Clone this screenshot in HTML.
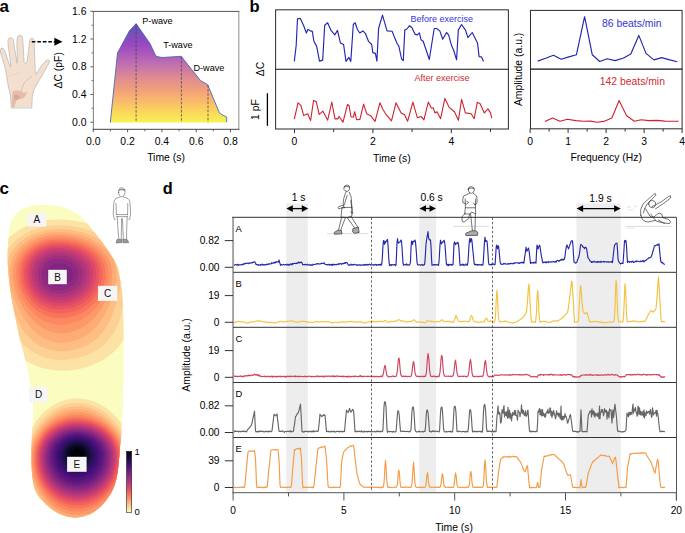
<!DOCTYPE html><html><head><meta charset="utf-8"><style>html,body{margin:0;padding:0;background:#fff;width:685px;height:533px;overflow:hidden}svg{display:block;font-family:"Liberation Sans",sans-serif}</style></head><body><svg width="685" height="533" viewBox="0 0 685 533"><text x="-0.6" y="11.8" font-size="17" text-anchor="start" fill="#000" font-weight="bold" >a</text>
<defs><linearGradient id="ga" gradientUnits="userSpaceOnUse" x1="0" y1="23" x2="0" y2="122.6"><stop offset="0" stop-color="#5a56b9"/><stop offset="0.222" stop-color="#9a48c2"/><stop offset="0.414" stop-color="#c070b0"/><stop offset="0.556" stop-color="#e08c90"/><stop offset="0.697" stop-color="#f4a478"/><stop offset="0.838" stop-color="#fcc864"/><stop offset="1" stop-color="#f6f452"/></linearGradient></defs>
<polygon fill="url(#ga)" points="110.3,122.6 117.5,52.9 129.4,30.8 136.1,23.6 150,43.5 156,56.3 162,57.5 181.2,56.3 200.5,80.6 207.7,84.7 219.5,113.2 226.7,117.1 226.7,122.6"/>
<polyline fill="none" stroke="#4a6ab5" stroke-width="0.9" stroke-linejoin="round" points="110.3,122.6 117.5,52.9 129.4,30.8 136.1,23.6 150,43.5 156,56.3 162,57.5 181.2,56.3 200.5,80.6 207.7,84.7 219.5,113.2 226.7,117.1 226.7,122.2" />
<line x1="136.1" y1="24" x2="136.1" y2="122.4" stroke="#444" stroke-width="0.75" stroke-dasharray="2.6,1.5"/>
<line x1="181.4" y1="56.6" x2="181.4" y2="122.4" stroke="#444" stroke-width="0.75" stroke-dasharray="2.6,1.5"/>
<line x1="208" y1="85" x2="208" y2="122.4" stroke="#444" stroke-width="0.75" stroke-dasharray="2.6,1.5"/>
<line x1="93.4" y1="11.4" x2="93.4" y2="129.3" stroke="#8a8a8a" stroke-width="1.1" />
<line x1="238.8" y1="11.4" x2="238.8" y2="129.3" stroke="#a8a8a8" stroke-width="1.3" />
<line x1="92.8" y1="11.4" x2="239.4" y2="11.4" stroke="#555" stroke-width="1.0" />
<line x1="92.8" y1="129.3" x2="239.4" y2="129.3" stroke="#444" stroke-width="1.0" />
<line x1="90.3" y1="122.2" x2="93.3" y2="122.2" stroke="#555" stroke-width="0.9" />
<text x="86.5" y="125.8" font-size="10.4" text-anchor="end" fill="#000" font-weight="normal" >0.0</text>
<line x1="90.3" y1="94.5" x2="93.3" y2="94.5" stroke="#555" stroke-width="0.9" />
<text x="86.5" y="98.1" font-size="10.4" text-anchor="end" fill="#000" font-weight="normal" >0.4</text>
<line x1="90.3" y1="66.8" x2="93.3" y2="66.8" stroke="#555" stroke-width="0.9" />
<text x="86.5" y="70.4" font-size="10.4" text-anchor="end" fill="#000" font-weight="normal" >0.8</text>
<line x1="90.3" y1="39" x2="93.3" y2="39" stroke="#555" stroke-width="0.9" />
<text x="86.5" y="42.6" font-size="10.4" text-anchor="end" fill="#000" font-weight="normal" >1.2</text>
<line x1="90.3" y1="11.3" x2="93.3" y2="11.3" stroke="#555" stroke-width="0.9" />
<text x="86.5" y="14.9" font-size="10.4" text-anchor="end" fill="#000" font-weight="normal" >1.6</text>
<line x1="91.5" y1="108.3" x2="93.3" y2="108.3" stroke="#555" stroke-width="0.8" />
<line x1="91.5" y1="80.6" x2="93.3" y2="80.6" stroke="#555" stroke-width="0.8" />
<line x1="91.5" y1="52.9" x2="93.3" y2="52.9" stroke="#555" stroke-width="0.8" />
<line x1="91.5" y1="25.2" x2="93.3" y2="25.2" stroke="#555" stroke-width="0.8" />
<line x1="93.3" y1="129.3" x2="93.3" y2="132.2" stroke="#444" stroke-width="0.9" />
<text x="93.3" y="145.2" font-size="10.4" text-anchor="middle" fill="#000" font-weight="normal" >0.0</text>
<line x1="127.6" y1="129.3" x2="127.6" y2="132.2" stroke="#444" stroke-width="0.9" />
<text x="127.6" y="145.2" font-size="10.4" text-anchor="middle" fill="#000" font-weight="normal" >0.2</text>
<line x1="161.9" y1="129.3" x2="161.9" y2="132.2" stroke="#444" stroke-width="0.9" />
<text x="161.9" y="145.2" font-size="10.4" text-anchor="middle" fill="#000" font-weight="normal" >0.4</text>
<line x1="196.2" y1="129.3" x2="196.2" y2="132.2" stroke="#444" stroke-width="0.9" />
<text x="196.2" y="145.2" font-size="10.4" text-anchor="middle" fill="#000" font-weight="normal" >0.6</text>
<line x1="230.5" y1="129.3" x2="230.5" y2="132.2" stroke="#444" stroke-width="0.9" />
<text x="230.5" y="145.2" font-size="10.4" text-anchor="middle" fill="#000" font-weight="normal" >0.8</text>
<line x1="110.4" y1="129.3" x2="110.4" y2="131.4" stroke="#444" stroke-width="0.8" />
<line x1="144.8" y1="129.3" x2="144.8" y2="131.4" stroke="#444" stroke-width="0.8" />
<line x1="179.1" y1="129.3" x2="179.1" y2="131.4" stroke="#444" stroke-width="0.8" />
<line x1="213.3" y1="129.3" x2="213.3" y2="131.4" stroke="#444" stroke-width="0.8" />
<text x="166" y="161.4" font-size="10.4" text-anchor="middle" fill="#000" font-weight="normal" >Time (s)</text>
<text x="0" y="0" font-size="10.4" text-anchor="middle" dominant-baseline="central" fill="#000" transform="translate(58.8,70.3) rotate(-90)">&#916;C (pF)</text>
<text x="142.3" y="24.2" font-size="9.1" text-anchor="start" fill="#000" font-weight="normal" >P-wave</text>
<text x="163.2" y="47.8" font-size="9.1" text-anchor="start" fill="#000" font-weight="normal" >T-wave</text>
<text x="193.5" y="71.4" font-size="9.1" text-anchor="start" fill="#000" font-weight="normal" >D-wave</text>
<g stroke-linejoin="round" stroke-linecap="round">
<path d="M11.3,107.6 L10.5,96.1 L7.5,82 L6,71.8 L3.8,63.5 L0.8,53.8 L0.3,50 L1.2,48.3 L2.8,48.1 L4.5,50 L7.5,59 L10.1,66.3 L10.9,67 L9.8,56.8 L8.3,47 L7.9,40 L9,38.2 L10.5,37.7 L12.3,38.2 L13.5,39.5 L14.3,47 L16.1,56.8 L16.9,62.8 L17.1,63.3 L17.3,55 L16.9,47 L17.1,38.5 L18.3,35.8 L19.9,35.2 L21.6,35.8 L22.5,37.5 L23.3,47 L24,62 L24.8,63.4 L25.8,63.2 L27,62 L28.5,50.8 L29.6,40.3 L30.6,38.6 L31.8,38.2 L33.2,38.7 L34.1,40.3 L34.5,50.8 L34.9,62 L35.3,71.8 L36,74.3 L41.3,66 L45,61.6 L47.8,59.8 L49.4,60.6 L49.3,62.6 L46.6,67.6 L42.8,74.3 L38.3,81.8 L33.8,90.1 L32.3,96.1 L31.8,107.6Z" fill="#f4dfcf" stroke="#a3aeb0" stroke-width="0.6"/>
<path d="M12.6,91.5 Q18,89.5 22,92 Q24.5,93.5 27,91.6 Q26,97.5 21.5,99 L17,99.6 Q15,104 14.5,107.4 L12,107.4 Q11.6,98 12.6,91.5 Z" fill="#e5bba9"/>
<path d="M14,95 Q17,94 20,97 L18,100 Q15.5,100 14,98.5 Z" fill="#d9a898"/>
<path d="M21.2,91.6 Q22.5,81 31.8,76.4" fill="none" stroke="#a3aeb0" stroke-width="0.5"/>
<path d="M7.8,76.4 Q14.5,75.6 20.6,72" fill="none" stroke="#e2c4b4" stroke-width="0.5"/>
</g>
<line x1="31.8" y1="41.8" x2="55" y2="41.8" stroke="#000" stroke-width="1.5" stroke-dasharray="3.6,1.9"/>
<polygon points="54.4,37.8 62.5,41.8 54.4,45.8" fill="#000"/>
<text x="249.6" y="11.8" font-size="16.5" text-anchor="start" fill="#000" font-weight="bold" >b</text>
<polyline fill="none" stroke="#2326b0" stroke-width="1.15" stroke-linejoin="round" points="294.3,61.4 296.2,45.3 297.5,18.8 300.3,18.4 303.5,25.3 306.4,33 308,29.3 310.2,30.9 312.3,31.4 313.9,41.3 316.6,46.1 319.5,61.1 322.7,60.1 324.7,25.3 327.6,22.8 330.8,30.1 334.8,34.9 337.5,30.4 340.4,42.9 343.6,44.5 346,61.4 348.9,57.4 350.8,61.4 353.3,24.5 355.2,22.8 357.3,29.3 359.7,33 362.9,30.9 365.3,33.3 368.5,41.3 371.7,44.5 372.8,52.6 375.4,53.4 376.9,61.1 378.6,28.5 382.5,15.1 387,30.9 392.1,31.2 394.8,38.1 397.2,43.7 398.8,46.1 401.6,59 403.3,60.6 404.8,30.1 406.9,29 409.6,25.7 412,27.7 414.9,34.1 417.3,34.9 419.4,32.8 421,39.7 423.2,41.3 429.3,59.5 434.2,28.5 436.6,28.5 439.8,30.9 442.7,39.2 446.5,32.5 448.6,34.9 451.5,45.3 453.9,51 456.6,59.8 458.3,30.1 461.5,24.5 465.5,30.1 467.9,37.6 472.2,32.5 477.5,42.9 479.1,56.6 481.5,56.9 483.5,61.4" />
<polyline fill="none" stroke="#d0212c" stroke-width="1.1" stroke-linejoin="round" points="294.3,119.2 298,102.8 300.9,105.3 303.6,115.4 307.7,113.8 310.6,120.5 313.6,100.4 316.2,101.6 319.2,114.4 322.9,111.2 327.7,120.2 331.8,102 335,118.9 337.9,118.9 339,116.5 343,122.1 347.5,104.5 349.1,105.7 351,117 353.4,117 354.7,111.7 356.6,119.7 359.9,119.4 363.6,104.1 366.8,114.1 370.3,115.4 375.1,121.3 379.9,102.8 382.8,109.3 385.6,113.8 391.5,120.8 396,102.8 401.1,112.9 404.6,114.7 407.6,121.3 412.9,102.1 417.4,117.8 420.9,116.4 423.9,119.9 428.3,102.1 431.4,108.2 433.2,107.7 434.9,112.9 437,111.7 440.6,118.7 444.9,98.4 449,107.1 454.6,112 458.4,120.3 461.6,99.4 465.4,112.9 471.2,113.8 474.2,118.7 477.3,102.4 480,103.6 484.3,112.9 487.9,108.9 490.5,112.9 491.7,118.2" />
<rect x="275.6" y="9.8" width="232.8" height="119.2" fill="none" stroke="#333" stroke-width="1.05"/>
<line x1="275.6" y1="69.3" x2="508.4" y2="69.3" stroke="#111" stroke-width="1.1" />
<line x1="294.5" y1="129" x2="294.5" y2="133.2" stroke="#333" stroke-width="1.0" />
<text x="294.5" y="145" font-size="10.4" text-anchor="middle" fill="#000" font-weight="normal" >0</text>
<line x1="333.7" y1="129" x2="333.7" y2="132" stroke="#333" stroke-width="1.0" />
<line x1="372.9" y1="129" x2="372.9" y2="133.2" stroke="#333" stroke-width="1.0" />
<text x="372.9" y="145" font-size="10.4" text-anchor="middle" fill="#000" font-weight="normal" >2</text>
<line x1="412.1" y1="129" x2="412.1" y2="132" stroke="#333" stroke-width="1.0" />
<line x1="451.3" y1="129" x2="451.3" y2="133.2" stroke="#333" stroke-width="1.0" />
<text x="451.3" y="145" font-size="10.4" text-anchor="middle" fill="#000" font-weight="normal" >4</text>
<line x1="490.5" y1="129" x2="490.5" y2="132" stroke="#333" stroke-width="1.0" />
<text x="391.9" y="161.6" font-size="10.4" text-anchor="middle" fill="#000" font-weight="normal" >Time (s)</text>
<line x1="267.4" y1="93.2" x2="267.4" y2="125.8" stroke="#000" stroke-width="1.3" />
<text x="0" y="0" font-size="10.4" text-anchor="middle" dominant-baseline="central" fill="#000" transform="translate(255.5,109.5) rotate(-90)">1 pF</text>
<text x="0" y="0" font-size="10.4" text-anchor="middle" dominant-baseline="central" fill="#000" transform="translate(260.4,69) rotate(-90)">&#916;C</text>
<text x="410.6" y="22" font-size="9" text-anchor="start" fill="#3434d4" font-weight="normal" >Before exercise</text>
<text x="414.6" y="80.9" font-size="9" text-anchor="start" fill="#d42a30" font-weight="normal" >After exercise</text>
<polyline fill="none" stroke="#2326b0" stroke-width="1.15" stroke-linejoin="round" points="537.8,61.1 545.6,58.3 553.5,55.2 561.2,59.2 568.9,56.9 576.4,54.8 584.6,16.7 592.3,54.8 599.7,61.5 607.2,58.7 614.9,60.6 623.1,58.3 630.8,54.1 638.8,35.4 646,53.4 653.9,59.9 661.7,57.6 669.8,59.9 677.3,61.8" />
<polyline fill="none" stroke="#d0212c" stroke-width="1.1" stroke-linejoin="round" points="544.9,121.5 552.6,118 560,121.3 567.5,119.2 575.9,120.6 583.4,121.3 590.4,121.1 597.4,122.2 604.9,121.1 611.9,118 619.1,100.5 626.6,115.7 634.3,121.3 641.3,119.7 648.8,120.6 657,120.4 664.7,121.1 678.7,121.3" />
<rect x="530.5" y="10.4" width="151.6" height="118.4" fill="none" stroke="#333" stroke-width="1.05"/>
<line x1="530.5" y1="69.1" x2="682.1" y2="69.1" stroke="#111" stroke-width="1.1" />
<line x1="530.1" y1="128.8" x2="530.1" y2="133" stroke="#333" stroke-width="1.0" />
<text x="530.1" y="145" font-size="10.4" text-anchor="middle" fill="#000" font-weight="normal" >0</text>
<line x1="549.1" y1="128.8" x2="549.1" y2="131.6" stroke="#333" stroke-width="1.0" />
<line x1="568.1" y1="128.8" x2="568.1" y2="133" stroke="#333" stroke-width="1.0" />
<text x="568.1" y="145" font-size="10.4" text-anchor="middle" fill="#000" font-weight="normal" >1</text>
<line x1="587.1" y1="128.8" x2="587.1" y2="131.6" stroke="#333" stroke-width="1.0" />
<line x1="606.1" y1="128.8" x2="606.1" y2="133" stroke="#333" stroke-width="1.0" />
<text x="606.1" y="145" font-size="10.4" text-anchor="middle" fill="#000" font-weight="normal" >2</text>
<line x1="625.1" y1="128.8" x2="625.1" y2="131.6" stroke="#333" stroke-width="1.0" />
<line x1="644.1" y1="128.8" x2="644.1" y2="133" stroke="#333" stroke-width="1.0" />
<text x="644.1" y="145" font-size="10.4" text-anchor="middle" fill="#000" font-weight="normal" >3</text>
<line x1="663.1" y1="128.8" x2="663.1" y2="131.6" stroke="#333" stroke-width="1.0" />
<line x1="682.1" y1="128.8" x2="682.1" y2="133" stroke="#333" stroke-width="1.0" />
<text x="682.1" y="145" font-size="10.4" text-anchor="middle" fill="#000" font-weight="normal" >4</text>
<text x="606.2" y="161.2" font-size="10.4" text-anchor="middle" fill="#000" font-weight="normal" >Frequency (Hz)</text>
<text x="0" y="0" font-size="10.4" text-anchor="middle" dominant-baseline="central" fill="#000" transform="translate(518.1,69.4) rotate(-90)">Amplitude (a.u.)</text>
<text x="602.1" y="26.5" font-size="10.4" text-anchor="start" fill="#3434d4" font-weight="normal" >86 beats/min</text>
<text x="599.7" y="84.9" font-size="10.4" text-anchor="start" fill="#d42a30" font-weight="normal" >142 beats/min</text>
<text x="-0.6" y="194" font-size="17" text-anchor="start" fill="#000" font-weight="bold" >c</text>
<defs><clipPath id="insole"><path d="M43.7,204.6 L46.7,204.7 L49.8,204.9 L53,205.2 L56.3,205.6 L59.5,206.2 L62.6,207 L65.6,208 L68.5,209.1 L71.4,210.4 L74.2,211.9 L77,213.6 L79.7,215.6 L82.4,218 L85,220.8 L87.7,223.8 L90.2,226.9 L92.6,229.9 L94.9,232.8 L97,235.4 L99.1,238 L101,240.5 L102.8,243 L104.6,245.5 L106.3,248 L108.1,250.5 L109.8,253.1 L111.5,255.7 L113.1,258.2 L114.6,260.8 L115.8,263.3 L116.8,265.7 L117.6,268.1 L118.2,270.4 L118.7,272.8 L119.3,275.5 L119.8,278.5 L120.4,281.7 L120.9,285 L121.5,288.5 L122,292.4 L122.4,296.8 L122.8,302 L123.1,308.2 L123.3,315.2 L123.5,322.8 L123.6,330.6 L123.7,338.3 L123.8,345.6 L123.8,352.5 L123.8,359.2 L123.8,365.9 L123.7,372.4 L123.6,378.8 L123.5,385 L123.4,391.1 L123.2,397.1 L123.1,402.9 L122.9,408.5 L122.7,413.9 L122.4,419 L122.1,423.6 L121.8,427.6 L121.5,431.4 L121.2,435.2 L120.8,439.2 L120.3,443.8 L119.8,449.1 L119.4,455 L118.8,461.2 L118.2,467.3 L117.5,473 L116.6,478 L115.5,482.2 L114.4,485.8 L113.1,489 L111.7,491.9 L110,494.7 L108.2,497.5 L106.1,500.4 L103.8,503.2 L101.2,505.9 L98.6,508.3 L95.9,510.5 L93.2,512.4 L90.5,513.9 L87.7,515.1 L84.8,516.1 L82,516.8 L79.1,517.2 L76.2,517.4 L73.3,517.4 L70.4,517.1 L67.5,516.5 L64.6,515.7 L61.7,514.8 L59,513.6 L56.3,512.2 L53.7,510.6 L51.1,508.8 L48.7,506.8 L46.3,504.7 L44.2,502.6 L42.2,500.5 L40.3,498.4 L38.6,496.2 L37,493.7 L35.6,491.1 L34.4,488 L33.5,484.6 L32.8,480.8 L32.3,476.8 L32,472.5 L31.7,468 L31.5,463.4 L31.4,458.4 L31.4,453 L31.5,447.3 L31.7,441.7 L31.8,436.4 L32,431.6 L32.2,427.4 L32.5,423.8 L32.8,420.4 L33.1,417.1 L33.2,413.7 L33.2,410 L33,406 L32.6,402 L32.1,397.8 L31.5,393.6 L30.9,389.3 L30.2,385 L29.5,380.7 L28.6,376.3 L27.8,371.9 L26.8,367.5 L25.9,363.1 L24.9,358.7 L23.9,354.3 L22.8,350 L21.6,345.6 L20.5,341.2 L19.4,336.9 L18.4,332.5 L17.4,328.1 L16.5,323.6 L15.6,319 L14.7,314.6 L13.9,310.3 L13.1,306.2 L12.4,302.4 L11.7,298.8 L11.1,295.4 L10.6,292 L10.1,288.6 L9.6,285 L9.2,281.2 L8.8,277.3 L8.4,273.4 L8.1,269.5 L7.9,265.7 L7.7,262 L7.6,258.5 L7.6,255.2 L7.6,251.9 L7.7,248.8 L7.8,245.6 L8,242.4 L8.2,239.1 L8.5,235.7 L8.8,232.4 L9.2,229.2 L9.7,226.2 L10.4,223.5 L11.2,221.2 L12.1,219.2 L13.2,217.5 L14.4,215.9 L15.7,214.4 L17.1,213 L18.7,211.6 L20.4,210.3 L22.3,209.2 L24.2,208.1 L26.3,207.2 L28.5,206.4 L30.8,205.8 L33.1,205.3 L35.6,204.9 L38.2,204.7 L40.9,204.6Z"/></clipPath></defs>
<g clip-path="url(#insole)">
<path d="M43.7,204.6 L46.7,204.7 L49.8,204.9 L53,205.2 L56.3,205.6 L59.5,206.2 L62.6,207 L65.6,208 L68.5,209.1 L71.4,210.4 L74.2,211.9 L77,213.6 L79.7,215.6 L82.4,218 L85,220.8 L87.7,223.8 L90.2,226.9 L92.6,229.9 L94.9,232.8 L97,235.4 L99.1,238 L101,240.5 L102.8,243 L104.6,245.5 L106.3,248 L108.1,250.5 L109.8,253.1 L111.5,255.7 L113.1,258.2 L114.6,260.8 L115.8,263.3 L116.8,265.7 L117.6,268.1 L118.2,270.4 L118.7,272.8 L119.3,275.5 L119.8,278.5 L120.4,281.7 L120.9,285 L121.5,288.5 L122,292.4 L122.4,296.8 L122.8,302 L123.1,308.2 L123.3,315.2 L123.5,322.8 L123.6,330.6 L123.7,338.3 L123.8,345.6 L123.8,352.5 L123.8,359.2 L123.8,365.9 L123.7,372.4 L123.6,378.8 L123.5,385 L123.4,391.1 L123.2,397.1 L123.1,402.9 L122.9,408.5 L122.7,413.9 L122.4,419 L122.1,423.6 L121.8,427.6 L121.5,431.4 L121.2,435.2 L120.8,439.2 L120.3,443.8 L119.8,449.1 L119.4,455 L118.8,461.2 L118.2,467.3 L117.5,473 L116.6,478 L115.5,482.2 L114.4,485.8 L113.1,489 L111.7,491.9 L110,494.7 L108.2,497.5 L106.1,500.4 L103.8,503.2 L101.2,505.9 L98.6,508.3 L95.9,510.5 L93.2,512.4 L90.5,513.9 L87.7,515.1 L84.8,516.1 L82,516.8 L79.1,517.2 L76.2,517.4 L73.3,517.4 L70.4,517.1 L67.5,516.5 L64.6,515.7 L61.7,514.8 L59,513.6 L56.3,512.2 L53.7,510.6 L51.1,508.8 L48.7,506.8 L46.3,504.7 L44.2,502.6 L42.2,500.5 L40.3,498.4 L38.6,496.2 L37,493.7 L35.6,491.1 L34.4,488 L33.5,484.6 L32.8,480.8 L32.3,476.8 L32,472.5 L31.7,468 L31.5,463.4 L31.4,458.4 L31.4,453 L31.5,447.3 L31.7,441.7 L31.8,436.4 L32,431.6 L32.2,427.4 L32.5,423.8 L32.8,420.4 L33.1,417.1 L33.2,413.7 L33.2,410 L33,406 L32.6,402 L32.1,397.8 L31.5,393.6 L30.9,389.3 L30.2,385 L29.5,380.7 L28.6,376.3 L27.8,371.9 L26.8,367.5 L25.9,363.1 L24.9,358.7 L23.9,354.3 L22.8,350 L21.6,345.6 L20.5,341.2 L19.4,336.9 L18.4,332.5 L17.4,328.1 L16.5,323.6 L15.6,319 L14.7,314.6 L13.9,310.3 L13.1,306.2 L12.4,302.4 L11.7,298.8 L11.1,295.4 L10.6,292 L10.1,288.6 L9.6,285 L9.2,281.2 L8.8,277.3 L8.4,273.4 L8.1,269.5 L7.9,265.7 L7.7,262 L7.6,258.5 L7.6,255.2 L7.6,251.9 L7.7,248.8 L7.8,245.6 L8,242.4 L8.2,239.1 L8.5,235.7 L8.8,232.4 L9.2,229.2 L9.7,226.2 L10.4,223.5 L11.2,221.2 L12.1,219.2 L13.2,217.5 L14.4,215.9 L15.7,214.4 L17.1,213 L18.7,211.6 L20.4,210.3 L22.3,209.2 L24.2,208.1 L26.3,207.2 L28.5,206.4 L30.8,205.8 L33.1,205.3 L35.6,204.9 L38.2,204.7 L40.9,204.6Z" fill="#fbfcbf"/>
<path d="M65,400 60.5,401.5 54.2,404.5 45.5,410.8 39.8,416.5 35.8,421.5 29,433 25.2,443 24,448.2 23,456.5 23.5,470.2 26,483 30.2,495 33.5,501.5 36.8,506.8 40.8,512 46,517.5 54.8,524 56.2,524.8 98.5,524.8 101.8,523 107.8,518.8 114.8,512 121.2,503.2 127.2,491.5 129.5,485.2 131.5,477.8 133,468.2 133.2,455.8 132.5,449.5 131.2,444 127.8,434.5 124.8,428.8 120.5,422.2 116,416.8 111.8,412.5 104.2,406.8 96.2,402.5 90,400.2 85.8,399.2 80.2,398.5 73.2,398.5ZM45.2,220.5 36.2,222.5 30.2,224.5 25.5,226.5 17.8,230.8 10.8,236 5.2,241.5 0,249 0,327.5 4.2,337.8 10.8,347.5 19.2,356 28,362 35.8,365.8 42.2,368 53,370.2 65.8,370.8 73.8,370 80.5,368.8 87,367 95.5,363.8 101,361 107,357.2 112.5,353 119,346.5 125.5,337.2 128.8,330.5 130.8,324.8 132.5,317.2 134.8,298.8 134.8,267 132.5,258.8 130.2,253.8 127,248.5 124,244.8 118.8,239.5 114,235.8 108.2,232 101.5,228.5 95.5,226 86,223 73.2,220.5 60.2,219.5 51.5,219.8Z" fill="#fce3a5"/>
<path d="M72,403 62.5,405.2 53,410 46.8,414.8 41.5,420 36.2,426.8 30.5,437.2 27.2,447.2 26,456.2 26.5,469.2 28.8,480.8 32.8,492 36,498.5 40,504.8 44,509.8 48.5,514.2 53.2,518 57.8,520.8 66.5,524.2 68.5,524.8 85.8,524.8 94.2,522 102.8,517.2 107.5,513.5 112.2,508.8 118,501.2 123,492.2 127.5,480 129,473.5 130,466 130,454 128,444 126.2,439 123.5,433.2 116.8,423.2 109,415.2 104.5,411.8 99.2,408.5 89.5,404.5 82,403ZM45.5,226.2 34.2,229.2 30.5,230.8 21.8,235.5 16.8,239.2 12.5,243.2 6.5,251.2 4,256.2 2.5,260.5 0.8,270.8 0.8,280.5 1.2,286 4.5,303.5 9.5,321.8 14.2,332.5 20.2,341.2 23.8,345 28.8,349.2 34.5,353 40.8,356 45.8,357.8 52.2,359.2 59,360 65,360 76.5,358.5 88.8,354.5 99,348.8 103.8,345 108.2,340.5 114.5,331.8 118,324.5 120,318.8 125,296.8 126.8,283.8 126.8,272 125.8,265.2 124,259.5 122,255.2 116.8,247.8 111.8,242.8 107.2,239.2 101.2,235.5 95.8,232.8 83.8,228.5 71.2,226 63,225.2 54,225.2Z" fill="#fdd193"/>
<path d="M73.2,406.2 65.5,407.8 61.2,409.2 55.8,412 48,417.5 39.5,426.5 35,433.2 32.2,438.8 30.2,444.2 28.2,454.8 28.2,464.5 29.8,475 33.8,487.8 38.5,497.2 45,506.2 51.8,512.8 56.8,516.2 61,518.5 66.2,520.5 70.5,521.5 79,522 88,520.5 97.5,516.5 101.5,514 106.5,510 114,501.8 119,494 122.5,486.8 125,479.8 127.5,467.8 128,458 126.8,448 123.8,439 121.5,434.5 117.2,428 109.8,419.8 102,413.8 93.2,409.2 88.8,407.8 82.8,406.5ZM46.5,230 35,233.2 26,237.8 19,243 14.5,247.8 11,252.8 8.8,257.2 7,262.2 5.8,269.8 5.8,279.8 8,293.5 13.2,310.2 16,317.2 20,325.5 25.5,333.8 31.8,340.2 39.2,345.5 44.5,348 50.8,350 59,351.2 65,351.2 74,350 84,346.8 88.5,344.5 93.5,341.2 97.8,337.8 102,333.2 107.8,324.8 111.2,317.5 116.8,301.8 119.5,291 121,279.5 121,273.2 120,265.8 118,259.5 115.5,254.8 112.2,250.2 104.2,242.8 93.8,236.5 82.2,232.2 70,229.8 56,229Z" fill="#febe83"/>
<path d="M74.2,409.2 65,411 56,415 48.2,420.5 42,426.8 38.8,431 35.2,436.8 31.8,445.5 30.2,452.8 30,463.2 32,476 34.8,484.5 40,495 46.2,503.5 53.8,510.5 58.2,513.5 62.8,515.8 71.5,518.2 80.5,518.5 85.2,517.8 91,516 98.5,512.2 105.8,506.8 113.5,498 116.5,493.5 120.5,485.8 123.2,478.2 125.8,466 126,455.5 124.2,445.8 120.2,436.2 115.8,429.5 109.2,422.5 101.8,416.8 92.2,412 87.5,410.5 82.2,409.5ZM47.5,233 36.8,236 27.5,240.8 22.2,244.8 19,248 14.8,253.8 12.8,257.5 11,262.2 9.8,269 9.8,279.5 11.2,288.8 15.5,302 21.8,315 27.8,324.2 32,329.2 36,333 42,337.2 47,339.8 53.5,341.8 58,342.5 65.8,342.5 72,341.5 80.2,338.8 86.2,335.5 89.8,333 96.8,326.2 103.8,316.2 110.2,303 114.8,289.2 116.2,279.8 116.2,271.8 115.5,266.5 113.5,260.2 111.8,256.8 108,251.5 103.5,247 100,244.2 90.5,238.8 79.2,234.8 69,232.8 64,232.2 53,232.2Z" fill="#feac75"/>
<path d="M72.8,412.2 66.2,413.5 57,417.2 49.5,422.2 42.8,428.8 37,437 34.2,443 32,451.8 31.5,460.2 32.5,470 33.5,474.8 35.8,481.8 40,490.8 46.8,500.2 54.2,507.2 58.8,510.2 62.8,512.2 71,514.8 78.5,515.2 87.5,513.8 91.8,512.2 96.8,509.8 101,507 105.2,503.5 111.2,497 117,488.2 119.5,483 122,476 124,466.2 124.2,454.2 122.8,446.5 119.2,438 114,430.2 107.2,423.5 98.8,417.8 89,413.8 81.2,412.2ZM47.2,235.8 39.2,238 30.5,242.2 24.2,247 20.5,251 18,254.5 15.2,260 13.2,267.8 13,277.5 14.2,286 17.8,297 22.5,306.5 29.2,316.2 35.8,323 43.5,328.5 47,330.2 52.8,332.2 59,333.2 63.8,333.2 69.5,332.5 77.5,330 86,325.2 93.8,318.5 101.5,308.5 107.5,297.2 111,286.8 112.2,278.8 112.2,271.8 111.5,266.5 108.8,259 104.5,252.8 97,246 92.8,243.2 87.2,240.5 78.8,237.5 67.2,235.2 55.8,234.8Z" fill="#fd9969"/>
<path d="M74,414.8 64.8,416.5 56,420.2 48.5,425.5 42,432.2 38.5,437.5 36.2,442 34.5,447 33.2,453.5 33.2,464.2 35,474 37.8,482 42.5,491 47.2,497.2 54.5,504 62,508.5 70.5,511.2 74,511.8 80.2,511.8 85,511 90.8,509.2 97.8,505.8 104.8,500.5 108.2,497 112.2,492 117.5,483 121,473.2 122.8,462.8 122.8,454.8 121.2,446.8 117.8,438.5 113.5,432.2 106.8,425.5 100.2,421 95.2,418.5 89.8,416.5 82.5,415ZM42.5,239.5 35.8,242.2 27.5,247.8 21.8,254 17.8,261.8 16.2,268.2 16,276.8 17.8,287 20.8,295.2 25.2,303.5 31.8,311.8 38,317.2 44.8,321.2 53.5,324 57,324.5 64,324.5 70.8,323.5 78.5,321 86.5,316.5 90,313.8 95.5,308.2 100.5,301.5 104.8,293.5 107.8,284.2 108.8,276.8 108.2,268.2 105.8,260.5 101,253.5 95.2,248.2 90.2,245 80,240.5 71,238.2 62.8,237.2 51.8,237.5Z" fill="#fb8861"/>
<path d="M74.2,417 65.5,418.5 56.8,422 49,427.2 44,432.2 38.5,440.5 35.8,447.8 34.5,455.2 34.5,461.8 35.8,470.5 38.5,479.5 43,488.2 47.5,494.2 54.8,501 62.5,505.5 70.5,508 74,508.5 80.2,508.5 88,507 96.2,503.5 104,498 110.5,491 114.8,484.5 117.2,479.2 119.2,473.5 121.2,462.8 121.2,454.2 119.8,446.8 116.8,439.8 112.8,433.8 106.2,427.2 100,423 90.8,419 82.5,417.2ZM41,242.5 34,246 30.5,248.5 26.8,252 23,257 20,263.8 18.8,271.8 19.5,281.8 22.2,291 26.2,298.8 30.2,304.2 35.8,309.8 42,314 50.5,317.2 55,318 64.5,318 68.5,317.5 77,315.2 83.8,312 90.8,306.8 95,302.2 99.5,295.8 103,288.2 105.2,278.5 105.2,270.8 104.2,265.5 101.5,259.2 98,254.5 91,248.5 84.2,244.8 76,241.8 65.5,239.8 54.2,239.5 46.5,240.8Z" fill="#f8755c"/>
<path d="M73.8,419 67.2,420 59.8,422.5 52.2,426.8 45.2,433 40.8,439.2 38.8,443.2 37,448.2 36,453.8 36,463 37.8,472.5 40.2,479.5 42.5,484 45.8,489 52.8,496.5 59.2,501 67,504.2 73.2,505.5 81,505.5 85.5,504.8 91.2,503 97.8,499.8 103.2,495.8 108,491 110.8,487.5 115.2,479.8 118.5,470.5 119.8,463.2 119.8,453.5 117.8,445.2 115,439.5 111.2,434.2 105,428.2 99.2,424.5 91,421 83,419.2ZM37.8,246.5 31,251.2 26,257 23.5,261.8 21.8,268.2 21.5,276.2 23.2,285.5 26.5,293.2 32.2,301.5 37,306 41,308.8 49.2,312.2 54.8,313.2 63.8,313.2 72.8,311.8 78.5,309.8 82,308 89,303 93.5,298.2 97.2,292.8 99.8,287.5 102,278.8 102.2,273 101.2,266.2 99.2,261.2 96.2,256.8 92,252.5 86.2,248.5 78,244.8 69.2,242.5 63.8,241.8 51.5,242 45.8,243.2Z" fill="#f2635c"/>
<path d="M73.8,420.8 67.2,421.8 59.8,424.2 52,428.8 46.2,434 41.8,440.2 38.8,447 37.2,454.5 37.2,461.5 39,471.5 41.8,479 46.5,487 53,494 59.5,498.5 65,501 72.2,502.8 80,503 87.2,501.8 92.2,500 96.8,497.8 102.8,493.5 108.5,487.5 112.5,481.5 114.5,477.5 116.8,471.2 118.2,463.8 118.5,454.8 117,447.2 114.2,441 110.2,435.2 104.5,429.8 98.8,426 90.2,422.5 80.8,420.8ZM39.2,248.2 33.8,252 28.5,257.8 25.8,263 24.2,269.2 24.2,277.5 25.8,284.5 28.8,291.5 33.2,298 37,301.8 41.5,305 49,308.2 56,309.5 65,309.2 73.5,307.5 81.5,304 86.8,300.2 91,296 94.5,291 97,285.8 98.8,279.2 99,271 98.5,267.8 96.8,262.8 93.5,257.8 89.5,253.8 84.5,250.2 78.2,247.2 68.2,244.5 62,243.8 52.5,244 45.8,245.5Z" fill="#e85461"/>
<path d="M75,422.2 67.8,423.2 59,426.2 51.8,430.8 46.8,435.5 43,440.8 40.5,446 38.8,453 38.5,459.5 39.2,466.2 41.5,474.5 45,481.8 50,488.5 56.2,494 62.2,497.5 68.8,499.8 72.8,500.5 78.5,500.8 87.8,499.2 96.5,495.5 103.2,490.5 107.2,486.2 111.5,480 115.5,470.2 117,462.2 117,453.5 115.5,447 112.2,440.2 109.5,436.5 102.8,430.2 97.5,427 90.8,424.2 82.5,422.5ZM42.8,249 36.2,253 31.8,257.5 28.5,263 27,268.2 26.8,276.5 27.8,282 30.8,289.5 34.2,294.8 38.8,299.2 44,302.8 49.8,305 54.8,306 63.5,306 71.5,304.5 79.5,301.2 85.5,297 88.2,294.2 91.8,289.5 94.2,284.2 95.8,278.8 96,271.5 95.5,268.2 94,263.8 91,259 87,255 82.2,251.8 76.5,249 69.8,247 63.5,246 53.8,246 47.5,247.2Z" fill="#dc4869"/>
<path d="M74.5,423.8 67.8,424.8 60.2,427.2 53.8,431 47.2,437 43.2,443 41,448.8 40,454 40,461.5 41.5,469.8 44,476.5 47.2,482.2 52.8,488.8 59,493.5 65.2,496.5 72.2,498.2 80.2,498.5 88,497 96,493.5 101,490 106.2,484.8 110.8,478 114,470 115.5,462.8 115.8,455 114.8,449.2 112,442.5 108.8,437.8 103.8,432.8 97.8,428.8 89,425.2 82.8,424ZM40.2,253 34.8,257.8 32.2,261.2 30.5,265 29.2,271.8 29.8,279 32,286 35.2,291.5 40,296.5 43.5,299 50.5,302 56.2,303 64.2,302.8 70.5,301.5 74.8,300 81,296.5 86.2,291.8 89,288 91.2,283.5 92.8,277.8 93,272.5 92.2,267.8 90,262.5 88,259.8 84.8,256.5 80,253.2 75.2,251 68.5,249 61.2,248 55.8,248 50.5,248.8 45,250.5Z" fill="#cd3f70"/>
<path d="M71.2,425.5 64.8,427 59.2,429.2 53,433.2 47.8,438.5 45.5,441.8 43.2,446.2 42,450.2 41.2,455.5 41.8,464 42.8,468.8 46.2,477.5 50.2,483.5 55.5,488.8 59.8,491.8 64.2,494 68.8,495.5 75,496.5 82,496.2 89.2,494.5 95.2,491.8 102.2,486.5 106.2,482 110,476 113,468 114.2,460.8 114,452.2 112.2,446.2 108.8,440 104.2,435 98.5,430.8 91.5,427.5 84.8,425.8 81.2,425.2ZM43.2,254 38.5,257.5 35.5,261 33.5,264.8 32,271.2 32.2,277.5 34,283.8 37.2,289.5 41.5,294 45.5,296.8 51,299 56.5,300 63.8,299.8 69.8,298.5 76.8,295.5 81,292.5 84,289.5 86.5,286 88.8,281 89.8,276.2 89.8,271.8 88.8,267 87.2,263.8 85.5,261.2 82,257.8 77,254.5 73,252.8 68,251.2 63.5,250.5 56,250.2 52.2,250.8 47,252.2Z" fill="#bd3977"/>
<path d="M74.8,426.5 69.2,427.2 62,429.5 56,432.8 50,438 46.2,443.2 43.5,450 42.8,454.2 42.8,460.2 44.2,468.5 46.8,475 50.2,480.8 54.8,485.8 60.5,490 65.8,492.5 72.5,494.2 79.8,494.5 86.8,493.2 94.5,490 99.2,486.8 104.2,481.8 108,476.2 111.2,468.5 112.8,460.8 112.8,454 111,447 108.8,442.5 105.8,438.5 100.5,433.8 93.5,429.8 88.5,428 82.2,426.8ZM45,256 41.8,258.2 38.2,262 36,266.2 35,270.5 35,276.5 36,281 38.2,285.8 42,290.5 45.5,293.2 50,295.5 54.8,296.8 60.8,297 66.2,296.2 71.8,294.5 76.8,291.8 81,288 84,283.8 85.5,280.2 86.5,273.5 85.8,268.8 84.2,265 82.8,262.8 79.2,259.2 75,256.5 70.2,254.5 61.2,252.8 53.8,253 48.2,254.5Z" fill="#ae347b"/>
<path d="M71.2,428.2 64.5,430 59.5,432.2 53.8,436.2 49.8,440.5 46.2,446.5 44.5,452.5 44.2,460 45.2,466.2 47.5,472.8 51.5,479.5 54.8,483.2 61.2,488.2 66,490.5 72.8,492.2 79.8,492.5 84.8,491.8 90.8,489.8 97.5,485.8 103,480.5 106,476.2 108.8,470.8 110.8,463.8 111.2,460 111.2,454.2 110.8,451.2 109.5,447.2 107,442.5 102.2,437 97.2,433.2 91,430.2 84.8,428.5 81.2,428ZM45.8,259 42,262.2 39.2,266.8 38.2,270.2 38,275.2 38.8,279.2 40.5,283.5 42.8,286.8 46,289.8 49.8,292 54.5,293.5 63.8,293.5 67,292.8 72,290.8 75.8,288.2 78.8,285.2 80.8,282.2 82,279.2 82.8,275.5 82.8,272.8 82.2,269.8 80.8,266 78.5,263 76.2,261 70,257.5 64.8,256 61,255.5 56,255.5 53,256 48.5,257.5Z" fill="#9e2e7e"/>
<path d="M74.5,429.2 69.5,430 63.2,432 57.8,435 53,439 49.5,443.5 47.5,447.5 46,453 45.8,458.5 46.5,464.2 48.5,470.8 52.2,477.5 57.2,483 61.8,486.2 67,488.8 73,490.2 79.2,490.5 86.2,489.2 93.2,486.2 97.2,483.5 102,478.8 105.2,474 108,467.8 109.5,460.8 109.5,453.5 108,447.8 106.2,444.2 103.8,440.8 98,435.5 92.2,432.2 87.2,430.5 80,429.2ZM53,259.5 50.2,260.5 47,262.5 44.5,265 42.5,268.8 41.8,271.8 41.8,276.2 42.8,280 44.8,283.5 49.2,287.8 52.2,289.2 56.2,290.2 61.8,290.2 64.5,289.8 68.2,288.5 71.8,286.5 76,282.2 78.2,277 78.2,271.5 77.5,269 75.8,266 71.5,262.2 65.8,259.8 59,258.8Z" fill="#8d2980"/>
<path d="M70.2,431.2 65.2,432.8 60.5,435 55.8,438.5 51.2,443.8 48.5,449.5 47.5,454.5 47.5,459 48.8,466 50.5,470.8 53.8,476.2 57.8,480.8 62,484 67,486.5 74.2,488.2 80.2,488.2 85.5,487.2 89,486 95.5,482.2 100.5,477.5 103,474 105.8,468.5 107.5,462 107.8,453.5 107.2,451 104.8,445 102.5,441.8 98.8,438 93.5,434.5 86.5,431.8 81.2,430.8 73.5,430.8ZM54.8,264 50.2,266.2 47.2,270.2 46.5,272.8 46.5,276.5 48.2,280.8 51.5,284 53.2,285 56.8,286 62.5,285.8 65,285 68.2,283.2 71.2,280.2 72.8,277 73,273.5 71.2,269 67.2,265.5 63.2,264 59.5,263.5Z" fill="#7e2481"/>
<path d="M73,432.2 67.5,433.5 61.5,436.2 58.2,438.5 54.2,442.5 51,448 49.8,452 49.8,461.8 51.5,468 53.8,472.5 58,478 62.2,481.5 67.5,484.2 73,485.8 79.5,486 83,485.5 88.5,483.8 93.8,480.8 98.5,476.5 101,473.2 103.8,468 105.2,463.2 106,457 105.8,453.2 104.2,448 102,444 98.5,440 94.2,436.8 90.5,434.8 84.2,432.8 78.8,432ZM56.5,275 56.5,276.5 58.2,277.8 60.2,277.5 61.5,276.5 61.5,275 59.5,273.8 57.8,274Z" fill="#6e1e81"/>
<path d="M76,433.5 71.8,434 66,435.8 60.8,438.8 56,443.2 54,446.2 52.2,450.2 51.5,453.8 51.5,459 52.5,464.2 54.8,469.8 58,474.5 61,477.5 64.5,480 68.8,482 73.8,483.2 78.5,483.5 84.5,482.5 89,480.8 93,478.2 97.2,474.2 100.5,469.5 102.5,464.8 103.5,460.5 103.8,454.5 103.2,451.5 101.2,446.5 99,443.2 94.5,439 92.2,437.5 86.8,435 81.2,433.8Z" fill="#5e177f"/>
<path d="M74.2,435.2 69.5,436.2 65.8,437.8 61.5,440.5 58,444 56.2,446.5 54.5,450.5 53.8,454.2 53.8,458 55.5,465.5 58.8,471.2 62.2,475 65.8,477.5 71,479.8 74.8,480.5 79.8,480.5 84.5,479.5 89.5,477.2 93.5,474.2 96,471.5 97.8,469 100.2,463.5 101.2,458.5 101.2,453.8 100.2,449.8 98.2,445.8 96.8,443.8 92,439.5 87.2,437 83.2,435.8 80.2,435.2Z" fill="#50127b"/>
<path d="M71.5,437.5 68,438.8 63.8,441.2 60.8,444 58.8,446.8 56.8,451.5 56.2,454.5 57,461.5 58.2,465 60.2,468.5 64.5,473 69.8,476 74.5,477.2 80,477.2 83.5,476.5 90.2,473 92.8,470.8 96,466.2 97.2,463.5 98.5,458.8 98.5,453.2 98,451 96.2,447 94.2,444.2 91,441.2 88.2,439.5 84,437.8 80.5,437 74,437Z" fill="#400f73"/>
<path d="M75,438.8 70,440 67,441.5 62.5,445.5 59.5,451.2 59,457.2 59.8,461 61.5,465 65.8,470 68.8,472 72.5,473.5 75,474 79.5,474 84.2,472.8 86.8,471.5 91.2,467.8 93.2,465 95,461 95.8,457.5 95.8,453.8 94.8,449.8 93.5,447.2 88.8,442.2 85.2,440.2 79.5,438.8Z" fill="#2f1062"/>
<path d="M73.8,441 68.8,443 64.8,446.5 62.5,450.5 62,452.2 62,458.5 64,463.5 68.5,468.2 71.2,469.8 74.8,470.8 81,470.5 86.8,467.8 88.5,466.2 90.8,463.2 92.8,458 92.8,452.8 91.8,449.5 90.2,447 86.2,443.2 84,442 79.5,440.8Z" fill="#1f114b"/>
<path d="M75,443 70.8,444.5 66.8,448 65,451.5 64.5,456.5 66,461.2 69.8,465.5 75,467.8 79.5,467.8 84,466 87.8,462.5 89.8,458.2 90,453.2 88.5,449 85,445.2 80.8,443.2Z" fill="#120d33"/>
<path d="M75,445.5 72,446.8 69,449.5 67.5,453 67.5,457 69.5,461.2 72.5,463.8 75.2,464.8 79.2,464.8 83.2,463 85.8,460.2 87,457.2 87,452.8 85.5,449.5 83,447 79.5,445.5Z" fill="#08061d"/>
<path d="M75.5,448.5 73,449.8 71.5,451.5 70.8,453.2 70.8,456.5 71.8,458.8 73.5,460.5 75.8,461.5 78.8,461.5 81,460.5 83,458.5 84,455.5 83.8,453 82.8,451 80.8,449.2 77.5,448.2Z" fill="#010109"/>
</g>
<rect x="27.6" y="212.9" width="18.6" height="13.7" fill="#f6f4f4"/>
<text x="36.9" y="223.3" font-size="10" text-anchor="middle" fill="#111">A</text>
<rect x="48.2" y="269.8" width="18.6" height="14.4" fill="#f6f4f4"/>
<text x="57.5" y="280.6" font-size="10" text-anchor="middle" fill="#111">B</text>
<rect x="98" y="285.8" width="19.4" height="15.1" fill="#f6f4f4"/>
<text x="107.7" y="297" font-size="10" text-anchor="middle" fill="#111">C</text>
<rect x="29.2" y="387" width="18.6" height="15.2" fill="#f6f4f4"/>
<text x="38.5" y="398.2" font-size="10" text-anchor="middle" fill="#111">D</text>
<rect x="67.1" y="456.8" width="19.5" height="15" fill="#f6f4f4"/>
<text x="76.8" y="467.9" font-size="10" text-anchor="middle" fill="#111">E</text>
<defs><linearGradient id="cbar" x1="0" y1="1" x2="0" y2="0"><stop offset="0" stop-color="#fbfcbf"/><stop offset="0.1" stop-color="#fdcf92"/><stop offset="0.2" stop-color="#fd9f6c"/><stop offset="0.3" stop-color="#f6705b"/><stop offset="0.4" stop-color="#dd4968"/><stop offset="0.5" stop-color="#b63679"/><stop offset="0.6" stop-color="#8c2980"/><stop offset="0.7" stop-color="#63197f"/><stop offset="0.8" stop-color="#3b0f6f"/><stop offset="0.9" stop-color="#140d35"/><stop offset="1" stop-color="#000003"/></linearGradient></defs>
<rect x="126.5" y="451.3" width="5.2" height="61.2" fill="url(#cbar)" stroke="#222" stroke-width="0.6"/>
<text x="134.6" y="455" font-size="9.5">1</text>
<text x="134.6" y="514.8" font-size="9.5">0</text>
<text x="162.8" y="194" font-size="16.3" text-anchor="start" fill="#000" font-weight="bold" >d</text>
<rect x="286.3" y="203.4" width="21.5" height="289.2" fill="#ededed"/>
<rect x="419.3" y="203.4" width="16.9" height="289.2" fill="#ededed"/>
<rect x="576.4" y="203.4" width="44.4" height="289.2" fill="#ededed"/>
<polyline fill="none" stroke="#2528a8" stroke-width="1.15" stroke-linejoin="round" points="233.5,264.8 234,265.3 234.5,265.2 235,264.6 235.5,264.7 236,264.6 236.5,265 237,264.8 237.5,265.1 238,264.2 238.5,265.3 239,264.8 239.5,265 240,264.8 240.5,264.7 241,264.9 241.5,264.9 242,264.5 242.5,264.4 243,264.6 243.5,263.9 244,263.6 244.5,264.2 245,263.7 245.5,263.2 246,263.5 246.5,263.5 247,263.2 247.5,263 248,263.4 248.5,263.6 249,263.1 249.5,262.9 250,263.2 250.5,263.2 251,262.7 251.5,262.9 252,263 252.5,262.5 253,262.2 253.5,262.4 254,261.9 254.5,261.8 255,262.1 255.5,263.4 256,264.5 256.5,264.2 257,264.8 257.5,265 258,264.5 258.5,265.3 259,265.1 259.5,265 260,264.9 260.5,265.1 261,264.3 261.5,265 262,265 262.5,264.2 263,264.9 263.5,264.7 264,265.1 264.5,264.6 265,264.8 265.5,264.8 266,264.3 266.5,264.7 267,264.3 267.5,264.4 268,263.9 268.5,264.4 269,264.1 269.5,263.7 270,263.9 270.5,264 271,264 271.5,262.8 272,263.5 272.5,263.2 273,262.9 273.5,262.5 274,263.2 274.5,262.2 275,262.7 275.5,262.8 276,261.7 276.5,262.1 277,261.6 277.5,262 278,262.2 278.5,261.8 279,260 279.5,261.8 280,263.6 280.5,265.4 281,264.9 281.5,264.5 282,264.9 282.5,264.8 283,264.7 283.5,264.5 284,264.9 284.5,264.9 285,264.8 285.5,264.7 286,264.4 286.5,264.6 287,265.2 287.5,264.7 288,264.2 288.5,265.1 289,264.7 289.5,265.2 290,264.4 290.5,264.1 291,263.7 291.5,264.6 292,264.9 292.5,263.6 293,263.6 293.5,264 294,263.4 294.5,263.5 295,263.4 295.5,263.5 296,263.7 296.5,263.2 297,263.5 297.5,262.9 298,263.1 298.5,262.1 299,262.3 299.5,263 300,262.4 300.5,262.6 301,262.2 301.5,262.1 302,263 302.5,264.1 303,264.8 303.5,264.6 304,264.5 304.5,264.6 305,264.4 305.5,264.6 306,264.8 306.5,264.9 307,264.7 307.5,264.1 308,264.8 308.5,264.9 309,265.2 309.5,265 310,264.6 310.5,264.5 311,265.4 311.5,264.9 312,265.2 312.5,265.3 313,264.2 313.5,264.6 314,264.5 314.5,264.5 315,264.4 315.5,264.3 316,264.2 316.5,263.6 317,264 317.5,263.7 318,264 318.5,263.7 319,264 319.5,264 320,263.8 320.5,263.8 321,263.6 321.5,263.4 322,263.4 322.5,263.3 323,263.4 323.5,263.1 324,263 324.5,263 325,264.4 325.5,264.5 326,264.5 326.5,264.7 327,264.6 327.5,264.9 328,264.6 328.5,264.4 329,264.5 329.5,265.3 330,264.8 330.5,264.4 331,264.8 331.5,264.3 332,265.4 332.5,264.3 333,264.9 333.5,264.9 334,264.1 334.5,264.7 335,264.8 335.5,264.6 336,264.5 336.5,264.7 337,264.3 337.5,264.3 338,264.1 338.5,264.3 339,263.7 339.5,264.2 340,263.7 340.5,263.5 341,263.9 341.5,264.3 342,264 342.5,263.4 343,263.8 343.5,263.3 344,263.4 344.5,263.4 345,262.5 345.5,263.2 346,262.5 346.5,262.4 347,262.8 347.5,263.5 348,264.5 348.5,265.1 349,265.4 349.5,264.8 350,265.2 350.5,264.7 351,264.1 351.5,264.9 352,265 352.5,264.6 353,264.9 353.5,265 354,264.5 354.5,264.3 355,264.7 355.5,264.7 356,264.7 356.5,265.1 357,265.4 357.5,264.7 358,265 358.5,265.1 359,265 359.5,265.2 360,264.7 360.5,265.1 361,265.5 361.5,265.1 362,264.6 362.5,265 363,265.2 363.5,264.9 364,264.6 364.5,265.3 365,264.4 365.5,265 366,264.8 366.5,264.4 367,265.2 367.5,264.9 368,264.4 368.5,265 369,264.6 369.5,264.1 370,264.6 370.5,264.9 371,265 371.5,264.9 372,264.8 372.5,265 373,264.7 373.5,265.2 374,264.9 374.5,264.9 375,265 375.5,264.4 376,264.6 376.5,265.3 377,264.9 377.5,264.7 378,264.9 378.5,264.6 379,264.9 379.5,264.6 380,264.9 380.5,264.2 381,265.3 381.5,264.6 382,262.5 382.5,254.4 383,245.8 383.5,240.5 384,240.5 384.5,244.1 385,243.5 385.5,241.5 386,241.8 386.5,241.1 387,240 387.5,239.4 388,244.7 388.5,253.5 389,261.5 389.5,265.4 390,264.6 390.5,264.9 391,265.8 391.5,264.5 392,264.5 392.5,264.8 393,264.8 393.5,265.1 394,264.8 394.5,264.5 395,264.9 395.5,265.7 396,265.2 396.5,255.5 397,242.5 397.5,238.7 398,242.3 398.5,243.2 399,242.2 399.5,242.2 400,241.9 400.5,241.2 401,240 401.5,241.5 402,247.2 402.5,255.2 403,263 403.5,265.2 404,264.9 404.5,264.8 405,264.5 405.5,264.6 406,264.6 406.5,263.8 407,265.2 407.5,265 408,264.7 408.5,265.2 409,265 409.5,264.9 410,263.9 410.5,261.9 411,248.3 411.5,241 412,241.5 412.5,244.5 413,241.8 413.5,241.2 414,241.7 414.5,241.1 415,240 415.5,242.1 416,247.8 416.5,254.3 417,262.1 417.5,264.6 418,264.9 418.5,265 419,264.8 419.5,264.9 420,264.8 420.5,265.1 421,265 421.5,264.6 422,264.6 422.5,265.4 423,264.8 423.5,265.1 424,264.9 424.5,264.6 425,261.1 425.5,252.9 426,244.5 426.5,240.2 427,237.4 427.5,234.8 428,231.6 428.5,237.2 429,239.2 429.5,240 430,239.5 430.5,240.3 431,246.4 431.5,258.1 432,265.3 432.5,264.9 433,265 433.5,264.9 434,264.5 434.5,265 435,264.7 435.5,264.5 436,264.8 436.5,264.7 437,265.1 437.5,264.8 438,264.6 438.5,265.3 439,261.8 439.5,253.5 440,244.9 440.5,240.2 441,241.9 441.5,244 442,242.7 442.5,242.5 443,241.6 443.5,241.7 444,240.3 444.5,241.3 445,245 445.5,251.9 446,259.3 446.5,264.8 447,264.2 447.5,265.1 448,265.6 448.5,264.3 449,265.4 449.5,264.6 450,264.6 450.5,264.7 451,264.3 451.5,265.3 452,265 452.5,264.5 453,264.7 453.5,255 454,243.9 454.5,241.8 455,243.4 455.5,244.6 456,243.1 456.5,243.7 457,243.5 457.5,242.4 458,242.5 458.5,244.4 459,249.4 459.5,257.1 460,265.2 460.5,265.4 461,264.9 461.5,264.7 462,265 462.5,264.1 463,264.8 463.5,264.4 464,265.6 464.5,265.1 465,264.8 465.5,264.7 466,263.9 466.5,265 467,265.4 467.5,264.5 468,261.9 468.5,254.2 469,245.6 469.5,239.6 470,238.2 470.5,242.2 471,240 471.5,238.6 472,241.3 472.5,246.6 473,252 473.5,256.3 474,262.1 474.5,264.7 475,264.1 475.5,264.8 476,264.5 476.5,264.9 477,264.4 477.5,265.2 478,264.5 478.5,264.9 479,264.6 479.5,264.7 480,265.2 480.5,264.9 481,264.7 481.5,264.4 482,265.2 482.5,265.1 483,264.7 483.5,258.4 484,249.8 484.5,241.6 485,237.2 485.5,241.4 486,241.3 486.5,240.7 487,241.2 487.5,246.4 488,254 488.5,262 489,264.7 489.5,264.7 490,264.8 490.5,264.6 491,264.9 491.5,264.1 492,265 492.5,264.2 493,264.3 493.5,263.9 494,264.5 494.5,264.7 495,264.6 495.5,258.4 496,250 496.5,245.1 497,245.7 497.5,248.7 498,246.6 498.5,245.8 499,249.6 499.5,255.4 500,260.5 500.5,263.9 501,263.8 501.5,264.3 502,264.2 502.5,264.3 503,264.4 503.5,263.5 504,263.8 504.5,264 505,263.4 505.5,263.7 506,264.2 506.5,264.2 507,264.2 507.5,263.8 508,263.7 508.5,264.1 509,263.5 509.5,263.8 510,264.1 510.5,263.5 511,263.3 511.5,263.5 512,263.7 512.5,263.6 513,263.5 513.5,263.6 514,262.8 514.5,263 515,263.3 515.5,262.9 516,262.7 516.5,262.7 517,262.8 517.5,263 518,262.7 518.5,263.1 519,263.5 519.5,262.8 520,263.3 520.5,262.9 521,262.4 521.5,262.6 522,262.3 522.5,262.9 523,262.2 523.5,263.1 524,262.8 524.5,258 525,255.1 525.5,251.5 526,247.2 526.5,251 527,251.1 527.5,250.1 528,248.9 528.5,248 529,250.7 529.5,254.1 530,259 530.5,263.4 531,262.4 531.5,262.9 532,262.6 532.5,262.5 533,262.8 533.5,263.2 534,262.2 534.5,262.8 535,262.7 535.5,262.1 536,263.2 536.5,253.2 537,245.1 537.5,246.5 538,249 538.5,246.9 539,246.7 539.5,245.1 540,246.5 540.5,250.3 541,253.4 541.5,256.5 542,258.9 542.5,262 543,263 543.5,262.2 544,262.5 544.5,262.1 545,262.3 545.5,261.9 546,262.9 546.5,261.9 547,262.2 547.5,262.1 548,262.6 548.5,261.6 549,262.1 549.5,262 550,262.2 550.5,262.1 551,261.7 551.5,262 552,261.7 552.5,261.9 553,261.7 553.5,261.5 554,261.7 554.5,261.7 555,262.4 555.5,261.4 556,261.6 556.5,261.9 557,260.5 557.5,260.4 558,260.5 558.5,260.7 559,261.5 559.5,260.6 560,260.7 560.5,260.1 561,259.2 561.5,259.2 562,260.2 562.5,259.9 563,259.2 563.5,260 564,258.9 564.5,259.1 565,256 565.5,252 566,248.6 566.5,246.1 567,244.9 567.5,246.9 568,247.4 568.5,248.9 569,247.4 569.5,245.9 570,244.4 570.5,243.5 571,241.4 571.5,240.9 572,240.7 572.5,241 573,246.3 573.5,255 574,261.9 574.5,261.8 575,262.8 575.5,263.1 576,262.6 576.5,262.6 577,261.7 577.5,260 578,258.7 578.5,257.9 579,256 579.5,253.4 580,249.5 580.5,245.3 581,244.4 581.5,245 582,245.2 582.5,246 583,247.3 583.5,247.1 584,247.4 584.5,248.7 585,247.8 585.5,247.2 586,247.6 586.5,248.1 587,251.3 587.5,254.7 588,257.7 588.5,258.2 589,259 589.5,259.7 590,261.1 590.5,261.2 591,261.5 591.5,262.4 592,261.5 592.5,262.2 593,262.2 593.5,261.7 594,261.2 594.5,261.9 595,262 595.5,262.1 596,261.8 596.5,262.2 597,262.3 597.5,261.4 598,262.3 598.5,261.9 599,261.6 599.5,261.7 600,262.5 600.5,262.2 601,261.2 601.5,261.9 602,261.8 602.5,261.8 603,261.7 603.5,261.4 604,262.2 604.5,261.6 605,261.8 605.5,261.7 606,261.7 606.5,262.2 607,262.1 607.5,261.7 608,261.6 608.5,261.8 609,262.3 609.5,262 610,262 610.5,261.9 611,261.9 611.5,262.1 612,261.3 612.5,262.6 613,257.8 613.5,253 614,248.8 614.5,245.3 615,244.7 615.5,244 616,243.2 616.5,243.3 617,243.2 617.5,250.2 618,258.6 618.5,261.2 619,261.9 619.5,262.9 620,263.3 620.5,264 621,263.5 621.5,263.4 622,263.1 622.5,263.4 623,263.4 623.5,256.8 624,249.3 624.5,240.8 625,240.3 625.5,241.9 626,240.7 626.5,245.8 627,255.4 627.5,262.4 628,261.6 628.5,261.4 629,261.6 629.5,262.3 630,261.8 630.5,261.6 631,261.8 631.5,262.2 632,261.3 632.5,261.6 633,261.2 633.5,262.5 634,262.3 634.5,262 635,261.6 635.5,261.8 636,260.9 636.5,261.7 637,261.1 637.5,261.1 638,261.2 638.5,261.3 639,261.6 639.5,261.7 640,261.5 640.5,261 641,261.6 641.5,261.3 642,261.7 642.5,261 643,260.3 643.5,261.1 644,262 644.5,261.1 645,260.6 645.5,260.6 646,260.2 646.5,259.9 647,259.2 647.5,259.1 648,258.8 648.5,258.2 649,257.7 649.5,257.9 650,257.8 650.5,257.4 651,257 651.5,255.7 652,254.8 652.5,252.3 653,251 653.5,249.7 654,247.4 654.5,245.8 655,245.7 655.5,245.8 656,245.2 656.5,245.1 657,244.9 657.5,244.4 658,245.1 658.5,244.5 659,243.9 659.5,249.6 660,254.2 660.5,259.6 661,262.2 661.5,262.1 662,263 662.5,262.4 663,263.2 663.5,263.6 664,264.2 664.5,264.2 665,264.2"/>
<polyline fill="none" stroke="#f4c23e" stroke-width="1.15" stroke-linejoin="round" points="233.5,322.3 234,322.4 234.5,322.4 235,322.4 235.5,322.2 236,322.2 236.5,322 237,322 237.5,321.6 238,321.7 238.5,321.4 239,321.5 239.5,321.6 240,321.7 240.5,321.8 241,321.7 241.5,321.8 242,322.1 242.5,322 243,321.9 243.5,322 244,322 244.5,322.2 245,322.3 245.5,322.8 246,323.1 246.5,323 247,323.2 247.5,323.2 248,323.2 248.5,322.6 249,322.6 249.5,322.4 250,322 250.5,322 251,321.9 251.5,321.9 252,321.8 252.5,321.9 253,321.8 253.5,321.8 254,321.7 254.5,321.6 255,321.4 255.5,321.5 256,321.3 256.5,321.2 257,321 257.5,320.9 258,321 258.5,320.9 259,320.7 259.5,320.8 260,320.9 260.5,321 261,321.2 261.5,321.5 262,321.6 262.5,321.7 263,321.7 263.5,321.8 264,321.9 264.5,322 265,321.9 265.5,322 266,322.1 266.5,322.1 267,322.1 267.5,322.4 268,322.4 268.5,322.5 269,322.5 269.5,322.5 270,322.3 270.5,322.2 271,322.4 271.5,322.3 272,322.4 272.5,322.5 273,322.5 273.5,322.8 274,322.8 274.5,322.9 275,322.8 275.5,322.7 276,322.7 276.5,322.5 277,322.3 277.5,322.2 278,322 278.5,321.8 279,321.7 279.5,321.6 280,321.5 280.5,321.3 281,321.5 281.5,321.7 282,321.6 282.5,321.8 283,322 283.5,321.9 284,322 284.5,322 285,321.7 285.5,321.7 286,321.6 286.5,321.3 287,321.4 287.5,321.4 288,321.2 288.5,321.2 289,321.1 289.5,321 290,321 290.5,321 291,320.8 291.5,321 292,321 292.5,321.1 293,321.1 293.5,321.3 294,321.6 294.5,321.7 295,321.9 295.5,322 296,322 296.5,322.1 297,322 297.5,322.2 298,322.1 298.5,321.9 299,321.8 299.5,321.7 300,321.7 300.5,321.6 301,321.4 301.5,321.4 302,321.4 302.5,321.4 303,321.3 303.5,321.5 304,321.4 304.5,321.3 305,321.5 305.5,321.6 306,321.7 306.5,321.6 307,321.9 307.5,322.1 308,322.3 308.5,322.1 309,322.4 309.5,322.2 310,322.3 310.5,322.2 311,322.3 311.5,322.4 312,322.4 312.5,322.5 313,322.3 313.5,322.2 314,322.1 314.5,322 315,321.9 315.5,321.9 316,321.6 316.5,321.5 317,321.6 317.5,321.8 318,321.8 318.5,321.9 319,322 319.5,321.9 320,321.9 320.5,321.7 321,321.8 321.5,321.8 322,321.6 322.5,321.5 323,321.6 323.5,321.7 324,321.8 324.5,321.9 325,321.9 325.5,321.7 326,321.6 326.5,321.8 327,321.8 327.5,321.5 328,321.6 328.5,321.7 329,321.8 329.5,322 330,322.2 330.5,322.5 331,322.6 331.5,322.8 332,322.9 332.5,322.6 333,322.6 333.5,322.6 334,322.5 334.5,322.3 335,322.2 335.5,322.1 336,322.2 336.5,322.2 337,322.4 337.5,322.5 338,322.6 338.5,322.6 339,322.5 339.5,322.3 340,322.2 340.5,321.9 341,321.9 341.5,322 342,321.8 342.5,321.9 343,322 343.5,322.1 344,322 344.5,322.1 345,322 345.5,322 346,322 346.5,321.9 347,321.7 347.5,321.9 348,321.8 348.5,321.6 349,321.8 349.5,321.6 350,321.6 350.5,321.6 351,321.4 351.5,321.3 352,321.5 352.5,321.6 353,321.8 353.5,321.7 354,321.8 354.5,321.9 355,321.9 355.5,322 356,322.1 356.5,322 357,322.2 357.5,322 358,322 358.5,321.9 359,321.8 359.5,321.8 360,321.8 360.5,321.8 361,321.8 361.5,321.9 362,322.2 362.5,322.3 363,322.6 363.5,322.9 364,323 364.5,323 365,322.9 365.5,323 366,322.7 366.5,322.4 367,322.2 367.5,322.2 368,322.2 368.5,322 369,322 369.5,321.8 370,321.7 370.5,321.6 371,321.4 371.5,321.4 372,321.2 372.5,321.2 373,321.4 373.5,321.4 374,321.6 374.5,321.6 375,321.8 375.5,321.8 376,322 376.5,321.8 377,321.8 377.5,321.8 378,321.4 378.5,321.5 379,321.3 379.5,321.5 380,321.4 380.5,321.4 381,321.4 381.5,321.3 382,321.6 382.5,321.6 383,321.5 383.5,321.4 384,321.3 384.5,320.8 385,320.5 385.5,320.3 386,320.9 386.5,321.3 387,322 387.5,322.2 388,322.2 388.5,322.3 389,322 389.5,321.8 390,321.6 390.5,321.5 391,321.4 391.5,321.4 392,321.6 392.5,321.5 393,321.5 393.5,321.5 394,321.4 394.5,321.5 395,321.1 395.5,321.1 396,321.1 396.5,321 397,320.8 397.5,320.2 398,320 398.5,319.6 399,319.6 399.5,320 400,320.3 400.5,320.7 401,320.9 401.5,320.9 402,321 402.5,320.8 403,321 403.5,321 404,321.1 404.5,321.6 405,321.6 405.5,321.8 406,321.8 406.5,322 407,322 407.5,321.9 408,322 408.5,321.8 409,321.7 409.5,321.5 410,321.6 410.5,321.5 411,321.4 411.5,321.1 412,321 412.5,321 413,320.4 413.5,320.1 414,319.8 414.5,320 415,320.7 415.5,321.1 416,322 416.5,322.1 417,322 417.5,322.1 418,322 418.5,321.9 419,321.8 419.5,321.9 420,322 420.5,322 421,322.1 421.5,322.1 422,322.2 422.5,322.4 423,322.3 423.5,322.4 424,322.6 424.5,322.7 425,322.7 425.5,322.6 426,322.1 426.5,321.5 427,321 427.5,320.7 428,320.8 428.5,321 429,321.2 429.5,321.3 430,321.3 430.5,321.3 431,321.2 431.5,321.1 432,321.4 432.5,321.4 433,321.6 433.5,321.8 434,321.7 434.5,322 435,321.8 435.5,321.7 436,321.5 436.5,321.6 437,321.5 437.5,321.5 438,321.6 438.5,321.8 439,321.7 439.5,321.5 440,321.5 440.5,320.8 441,320.2 441.5,319.9 442,319.8 442.5,320.1 443,320.7 443.5,321.3 444,321.6 444.5,321.7 445,321.7 445.5,321.6 446,321.6 446.5,321.5 447,321.4 447.5,321.3 448,321.3 448.5,321.4 449,321.4 449.5,321.6 450,321.8 450.5,321.7 451,322 451.5,322.3 452,322 452.5,322.3 453,322.1 453.5,321.7 454,321.3 454.5,319.9 455,318 455.5,316.7 456,315.5 456.5,316.6 457,317.5 457.5,319.2 458,320.4 458.5,320.9 459,321.5 459.5,321.6 460,321.5 460.5,321.8 461,321.5 461.5,321.8 462,321.6 462.5,321.5 463,321.4 463.5,321.4 464,321.3 464.5,321.2 465,321.1 465.5,321.2 466,321.2 466.5,321.5 467,321.5 467.5,321.6 468,321.8 468.5,321.8 469,321.2 469.5,320.7 470,319.3 470.5,317.2 471,316.1 471.5,315.5 472,316.4 472.5,317.7 473,319.5 473.5,320.7 474,321.3 474.5,321.8 475,321.7 475.5,321.7 476,321.9 476.5,322 477,322 477.5,322.3 478,322.2 478.5,322.3 479,322.3 479.5,322 480,322.2 480.5,321.9 481,321.9 481.5,321.7 482,321.7 482.5,321.7 483,321.8 483.5,321.9 484,321.6 484.5,321.4 485,320 485.5,319.1 486,318.4 486.5,318.2 487,318.8 487.5,319.8 488,320.9 488.5,321.3 489,321.4 489.5,321.2 490,321.1 490.5,320.9 491,321.1 491.5,321.1 492,321.2 492.5,321.4 493,321.6 493.5,321.7 494,322 494.5,322.2 495,319.8 495.5,316 496,304.7 496.5,294.6 497,290.2 497.5,297.5 498,309.5 498.5,317.2 499,321 499.5,321.8 500,321.9 500.5,321.7 501,321.8 501.5,322 502,321.7 502.5,321.7 503,321.7 503.5,321.5 504,321.4 504.5,321.1 505,321.2 505.5,321.1 506,321.2 506.5,321.5 507,321.8 507.5,321.8 508,322 508.5,322.2 509,322.3 509.5,322.4 510,322.7 510.5,322.7 511,322.7 511.5,322.8 512,323.1 512.5,323.1 513,322.9 513.5,322.8 514,322.8 514.5,322.4 515,322.2 515.5,322.2 516,321.9 516.5,321.8 517,321.8 517.5,321.4 518,321.1 518.5,320.6 519,320.2 519.5,320 520,319.8 520.5,319.3 521,318.9 521.5,318.6 522,318.3 522.5,317.8 523,317.2 523.5,316.9 524,316.3 524.5,315.5 525,314.5 525.5,313.8 526,312.9 526.5,312 527,306.8 527.5,301.3 528,293.8 528.5,285.6 529,284.1 529.5,292.3 530,300.4 530.5,309.4 531,318.3 531.5,321.9 532,322 532.5,321.9 533,322.1 533.5,322.1 534,322 534.5,322.1 535,322.1 535.5,322.1 536,318.1 536.5,312 537,299 537.5,290.5 538,292.2 538.5,301.8 539,315 539.5,319.2 540,322.1 540.5,322 541,321.9 541.5,321.6 542,321.7 542.5,321.4 543,321.3 543.5,321.2 544,321.3 544.5,321.4 545,321.5 545.5,321.7 546,321.8 546.5,321.9 547,322 547.5,322 548,322.2 548.5,322.3 549,322.5 549.5,322.5 550,322.5 550.5,322.2 551,322.1 551.5,321.9 552,321.5 552.5,321.3 553,321.1 553.5,321 554,320.8 554.5,320.9 555,320.9 555.5,321.1 556,321.1 556.5,321 557,320.9 557.5,321.1 558,320.8 558.5,320.6 559,320.2 559.5,319.9 560,319.7 560.5,319.3 561,318.8 561.5,318.6 562,318.1 562.5,317.6 563,317.4 563.5,316.9 564,316.6 564.5,315.9 565,315.3 565.5,314.6 566,314.1 566.5,313.5 567,313.1 567.5,312.5 568,310.3 568.5,306.7 569,303 569.5,299.4 570,294.8 570.5,290.5 571,286.1 571.5,281.4 572,281.6 572.5,288.8 573,296 573.5,304.3 574,314 574.5,322.3 575,322.2 575.5,322 576,322.1 576.5,322 577,322 577.5,321.9 578,321.8 578.5,320 579,310.7 579.5,301.4 580,293.2 580.5,285.5 581,287.1 581.5,294.7 582,301.5 582.5,306.5 583,311.5 583.5,312.2 584,312.7 584.5,313.4 585,313.9 585.5,313.4 586,313 586.5,312.8 587,312.2 587.5,314.1 588,315.9 588.5,317.9 589,319.9 589.5,321.8 590,321.7 590.5,321.9 591,321.8 591.5,321.8 592,322 592.5,321.7 593,321.8 593.5,321.5 594,321.5 594.5,321.4 595,321.4 595.5,321.4 596,321.5 596.5,321.6 597,321.8 597.5,321.9 598,322 598.5,322 599,322 599.5,321.9 600,322.1 600.5,322 601,322.2 601.5,322 602,322.5 602.5,322.3 603,322.5 603.5,322.7 604,322.6 604.5,322.7 605,322.6 605.5,322.6 606,322.5 606.5,322.5 607,322.4 607.5,322.2 608,322.2 608.5,322.2 609,322 609.5,322 610,322 610.5,322 611,322.1 611.5,322.1 612,322 612.5,322 613,322 613.5,321.9 614,321.8 614.5,316.6 615,308.6 615.5,291.5 616,280.5 616.5,282.6 617,294.8 617.5,311.8 618,317.6 618.5,321.7 619,321.8 619.5,321.8 620,321.8 620.5,321.8 621,321.7 621.5,321.8 622,321.8 622.5,322.1 623,321.1 623.5,316.6 624,307.4 624.5,292.9 625,283.7 625.5,289.3 626,301.2 626.5,314.8 627,319.1 627.5,321.8 628,321.7 628.5,321.7 629,321.6 629.5,321.6 630,321.6 630.5,321.2 631,321.3 631.5,321.3 632,321.1 632.5,321.1 633,321 633.5,320.9 634,321.1 634.5,321.1 635,321.1 635.5,321.2 636,321.3 636.5,321.5 637,321.5 637.5,321.7 638,321.8 638.5,322 639,322 639.5,322 640,321.9 640.5,321.8 641,321.8 641.5,321.6 642,321.5 642.5,321.3 643,321.3 643.5,321.1 644,321.5 644.5,321.5 645,321.6 645.5,320.6 646,319.4 646.5,318.5 647,317.3 647.5,316.4 648,315.3 648.5,314.3 649,313.6 649.5,312.6 650,311.8 650.5,310.9 651,310.3 651.5,311.1 652,311.3 652.5,311.7 653,312.2 653.5,311.7 654,311.2 654.5,310.8 655,310.3 655.5,309.9 656,308.5 656.5,303 657,297.3 657.5,290.3 658,282.2 658.5,277.2 659,285.5 659.5,293.7 660,302 660.5,310.1 661,318.5 661.5,321.9 662,321.6 662.5,321.6 663,321.5 663.5,321.4 664,321.6 664.5,321.6 665,321.7"/>
<polyline fill="none" stroke="#d2435f" stroke-width="1.15" stroke-linejoin="round" points="233.5,376.6 234,376.6 234.5,375.9 235,376.5 235.5,376.3 236,376.5 236.5,376.2 237,376.2 237.5,376.6 238,376.4 238.5,376.3 239,376.3 239.5,376.4 240,376.4 240.5,375.8 241,376.2 241.5,376.4 242,376.6 242.5,376.7 243,376 243.5,376.7 244,376.1 244.5,376.2 245,375.8 245.5,375.7 246,376.2 246.5,375.7 247,375.6 247.5,375.9 248,376 248.5,375.1 249,375.3 249.5,375.3 250,375.7 250.5,375.8 251,375.1 251.5,375.2 252,375.3 252.5,375.3 253,374.9 253.5,375.2 254,374.7 254.5,374.2 255,374.5 255.5,375 256,375.2 256.5,374.6 257,374.8 257.5,375.4 258,374.7 258.5,375.8 259,376 259.5,375.1 260,376.2 260.5,376 261,376.6 261.5,376.4 262,376.4 262.5,376.5 263,376.7 263.5,376.5 264,376.4 264.5,376.1 265,376.6 265.5,376.4 266,376.9 266.5,376.4 267,376.4 267.5,376.3 268,376.6 268.5,376.4 269,376.3 269.5,376.8 270,376.9 270.5,376.3 271,376.2 271.5,376.7 272,376.2 272.5,377.1 273,376.4 273.5,376.7 274,376.1 274.5,376.4 275,376.7 275.5,376.5 276,376.3 276.5,377.1 277,376.6 277.5,376.4 278,376.3 278.5,376.4 279,376.8 279.5,376.2 280,376.4 280.5,376.2 281,376.8 281.5,376.4 282,376.7 282.5,376.6 283,376.3 283.5,376.6 284,376.7 284.5,376.2 285,376.6 285.5,377.3 286,376.4 286.5,376.6 287,376.1 287.5,376.6 288,376.3 288.5,376.6 289,376.4 289.5,376.1 290,376.7 290.5,376.4 291,376.2 291.5,376.5 292,376.2 292.5,376.5 293,376.4 293.5,376.3 294,376.6 294.5,376.1 295,376.7 295.5,375.9 296,376.8 296.5,376.5 297,376.4 297.5,376.3 298,376.6 298.5,376.4 299,376.4 299.5,376.7 300,376.3 300.5,376.4 301,376.5 301.5,376.7 302,376.4 302.5,376.5 303,376.5 303.5,376.6 304,376.8 304.5,376.2 305,376.4 305.5,376.4 306,376.6 306.5,376.8 307,376.4 307.5,376.5 308,376.7 308.5,376.1 309,376.2 309.5,376.3 310,376.4 310.5,376.5 311,376.3 311.5,376.9 312,376.3 312.5,376.4 313,376.7 313.5,376.6 314,376.4 314.5,376.5 315,376.6 315.5,376.4 316,376.6 316.5,376.2 317,376.5 317.5,376 318,376.2 318.5,376.1 319,376.8 319.5,376.3 320,376.5 320.5,376.2 321,376.4 321.5,376.4 322,376.2 322.5,376.7 323,376 323.5,376.6 324,377.1 324.5,376.2 325,376.4 325.5,376 326,376.4 326.5,376 327,376.6 327.5,376.3 328,376 328.5,376.1 329,376 329.5,376.4 330,376.6 330.5,376.3 331,376.1 331.5,376.2 332,376.5 332.5,375.8 333,376.6 333.5,376.5 334,375.8 334.5,376.7 335,376 335.5,376.4 336,376.7 336.5,376 337,375.9 337.5,376.1 338,376.1 338.5,376.4 339,376.3 339.5,376.3 340,376.3 340.5,376.4 341,376.2 341.5,376.5 342,376.4 342.5,376.2 343,376.9 343.5,376.1 344,376.6 344.5,376.2 345,376.5 345.5,376.5 346,376.6 346.5,376.8 347,376.2 347.5,377.1 348,376.5 348.5,376.2 349,376.1 349.5,377 350,376.8 350.5,376.4 351,376.6 351.5,376.8 352,376.4 352.5,376.3 353,376.4 353.5,376.6 354,376.4 354.5,376.1 355,376.6 355.5,376 356,376.2 356.5,376.7 357,376.5 357.5,376.5 358,376.4 358.5,376.7 359,376.4 359.5,375.9 360,376.5 360.5,375.6 361,375.9 361.5,376.8 362,376.7 362.5,376.3 363,376.4 363.5,376.4 364,376.7 364.5,376.2 365,376.2 365.5,376.3 366,376.5 366.5,376.5 367,376.3 367.5,376.6 368,376.2 368.5,376.4 369,376.2 369.5,376.2 370,376.7 370.5,376.3 371,376.2 371.5,376.4 372,376.2 372.5,376.6 373,376.6 373.5,376.7 374,376.1 374.5,376.4 375,376.9 375.5,376.4 376,376.7 376.5,376.8 377,376.1 377.5,376.7 378,376.6 378.5,376.6 379,376.9 379.5,376.5 380,376.4 380.5,376.6 381,376.3 381.5,376.5 382,375.9 382.5,376.4 383,374.7 383.5,373 384,369.3 384.5,366.6 385,365.3 385.5,367.5 386,370.3 386.5,374 387,375.6 387.5,376.2 388,376.1 388.5,377 389,376.7 389.5,376.8 390,376.4 390.5,376.5 391,376.6 391.5,376.6 392,376.4 392.5,376 393,376.2 393.5,376 394,376.8 394.5,376.3 395,376.4 395.5,376.5 396,376.4 396.5,375.4 397,373.2 397.5,368.8 398,363.3 398.5,358.7 399,358 399.5,361.7 400,367.7 400.5,373 401,375.1 401.5,376.1 402,376.5 402.5,376.2 403,376.7 403.5,376.1 404,376.4 404.5,376.6 405,376.1 405.5,376.4 406,376.4 406.5,376.2 407,376.4 407.5,376.7 408,376.5 408.5,376.3 409,376.4 409.5,376.5 410,376.7 410.5,376.6 411,376.3 411.5,375.1 412,372.4 412.5,367.6 413,363.6 413.5,361.5 414,363.6 414.5,368 415,373 415.5,374.3 416,375.9 416.5,376.3 417,376.6 417.5,376 418,376.5 418.5,376.6 419,376.4 419.5,376.4 420,376.7 420.5,376.5 421,376.4 421.5,376.3 422,376.6 422.5,376.3 423,376.6 423.5,376.4 424,376.7 424.5,376.2 425,376.4 425.5,376.5 426,374.2 426.5,372 427,364.5 427.5,357.9 428,353.5 428.5,356.1 429,361 429.5,368.7 430,373.3 430.5,375.4 431,376.5 431.5,376.4 432,376.7 432.5,376.7 433,376.1 433.5,376.5 434,376.3 434.5,376.1 435,376.6 435.5,376.4 436,376.5 436.5,377 437,376.7 437.5,376.7 438,376.3 438.5,376.1 439,376.7 439.5,374.5 440,372.4 440.5,366.3 441,359.5 441.5,355.6 442,355.8 442.5,360.4 443,367.9 443.5,372.9 444,374.8 444.5,376 445,376.3 445.5,376.3 446,376.2 446.5,376.1 447,376.2 447.5,376.3 448,376.4 448.5,376 449,376.3 449.5,376.5 450,376.4 450.5,376.1 451,376.3 451.5,376.4 452,376.6 452.5,376 453,375.9 453.5,374 454,371.4 454.5,366.2 455,362 455.5,360.1 456,363.5 456.5,368.3 457,373 457.5,374.4 458,376.2 458.5,376.5 459,376.7 459.5,376.3 460,376.3 460.5,376.3 461,376.4 461.5,376.2 462,376.3 462.5,376.4 463,376.4 463.5,376.4 464,376.1 464.5,376.3 465,376.2 465.5,376.7 466,376.8 466.5,376.5 467,376.8 467.5,376.3 468,375.6 468.5,373.7 469,371.1 469.5,365.2 470,361.4 470.5,359.5 471,362.7 471.5,367.4 472,373 472.5,374.7 473,376.4 473.5,376.6 474,376.3 474.5,376.3 475,376.8 475.5,376.7 476,376.4 476.5,376.2 477,376.3 477.5,376.5 478,376.6 478.5,377 479,376.3 479.5,376.4 480,376.3 480.5,376.4 481,376.3 481.5,376.1 482,376.6 482.5,376.4 483,375.8 483.5,373.7 484,370.3 484.5,365.1 485,361.2 485.5,360.7 486,364.4 486.5,369.2 487,373.1 487.5,374.9 488,376.1 488.5,376.3 489,376.8 489.5,376.3 490,376.9 490.5,376.3 491,376.2 491.5,376.8 492,376.6 492.5,376.7 493,376.9 493.5,376.4 494,376.1 494.5,375.1 495,375.1 495.5,375.1 496,375.1 496.5,375.2 497,374.9 497.5,375.3 498,375.5 498.5,375.1 499,375.2 499.5,375.1 500,375.2 500.5,375 501,374.9 501.5,375 502,375 502.5,374.6 503,375 503.5,375 504,375 504.5,374.8 505,375.1 505.5,375.1 506,374.8 506.5,375 507,375.1 507.5,375.1 508,374.7 508.5,374.7 509,374.9 509.5,374.7 510,375.5 510.5,374.7 511,374.7 511.5,375.1 512,374.8 512.5,374.3 513,374.9 513.5,374.7 514,374.8 514.5,374.5 515,374.7 515.5,374.8 516,374.9 516.5,374.6 517,374.7 517.5,374.7 518,374.9 518.5,374.8 519,374.5 519.5,375 520,374.7 520.5,374.9 521,374.6 521.5,374.9 522,374.8 522.5,374.8 523,374.9 523.5,374.9 524,374.9 524.5,374.9 525,374.5 525.5,374.8 526,374.3 526.5,374.2 527,374.7 527.5,374.7 528,375.2 528.5,375 529,375.1 529.5,375.2 530,375.9 530.5,376.6 531,376.9 531.5,376.9 532,376.8 532.5,376.6 533,376.6 533.5,376.4 534,376.9 534.5,376.7 535,376.6 535.5,376.9 536,376.7 536.5,377 537,377.3 537.5,376.4 538,375.6 538.5,374.9 539,375.3 539.5,374.9 540,374.5 540.5,375.1 541,374.4 541.5,374.7 542,374.7 542.5,374.7 543,374.5 543.5,375.4 544,374.7 544.5,374.9 545,374.8 545.5,374.4 546,374.7 546.5,374.8 547,375 547.5,374.7 548,374.9 548.5,374.7 549,374.9 549.5,374.2 550,374.9 550.5,374.6 551,374.7 551.5,374.1 552,374.5 552.5,374.9 553,375.4 553.5,374.6 554,374.6 554.5,374.9 555,374.9 555.5,374.7 556,374.8 556.5,374.7 557,375 557.5,375 558,375.2 558.5,375 559,375 559.5,374.8 560,375 560.5,374.6 561,375.3 561.5,374.9 562,375.1 562.5,374.6 563,375.1 563.5,374.9 564,374.8 564.5,374.6 565,374.6 565.5,375.2 566,375.1 566.5,374.8 567,374.8 567.5,374.6 568,374.3 568.5,374.4 569,374.6 569.5,374.8 570,374.5 570.5,375 571,374.9 571.5,374.8 572,375 572.5,376.1 573,376.8 573.5,376.5 574,376.3 574.5,377.3 575,377 575.5,376.7 576,377.2 576.5,377.1 577,376.9 577.5,376.9 578,377 578.5,377.2 579,376.8 579.5,376.7 580,376.9 580.5,375.6 581,375.9 581.5,375.3 582,375 582.5,375 583,375.1 583.5,375 584,375 584.5,375 585,375.1 585.5,374.9 586,375.2 586.5,374.6 587,375 587.5,375.1 588,374.7 588.5,374.9 589,375.3 589.5,374.9 590,374.8 590.5,374.2 591,375.1 591.5,375 592,375.1 592.5,375.5 593,375 593.5,375 594,374.8 594.5,374.9 595,375 595.5,375.2 596,375.1 596.5,374.8 597,374.8 597.5,375.3 598,374.7 598.5,375.1 599,375.4 599.5,375.1 600,375 600.5,375.3 601,375 601.5,374.9 602,374.9 602.5,375.2 603,375.1 603.5,375.3 604,374.9 604.5,374.9 605,374.8 605.5,375 606,374.8 606.5,375.2 607,375 607.5,374.7 608,374.2 608.5,374.5 609,375.3 609.5,374.9 610,375 610.5,374.8 611,375 611.5,374.4 612,374.4 612.5,374.5 613,374.9 613.5,375.1 614,375 614.5,374.9 615,374.6 615.5,375.1 616,374.8 616.5,374.9 617,374.9 617.5,375.3 618,375.7 618.5,376.3 619,376.6 619.5,377 620,376.8 620.5,377.1 621,376.4 621.5,377.1 622,376.8 622.5,376.8 623,376.6 623.5,376.6 624,376.4 624.5,377 625,376.2 625.5,375.9 626,375.4 626.5,374.5 627,374.5 627.5,374.5 628,374.9 628.5,374.6 629,374.7 629.5,374.8 630,374.6 630.5,375.1 631,374.4 631.5,374.9 632,375 632.5,374.4 633,374.9 633.5,374.7 634,374.9 634.5,374.3 635,374.7 635.5,374.4 636,374.6 636.5,375 637,374.6 637.5,374.1 638,374.3 638.5,374.4 639,374.9 639.5,374.5 640,374.3 640.5,375 641,374.8 641.5,374.8 642,374.5 642.5,375.1 643,374.7 643.5,374.2 644,374.4 644.5,374.5 645,374.7 645.5,374.9 646,374.5 646.5,374.6 647,375.3 647.5,374.7 648,374.6 648.5,374.7 649,374.4 649.5,374.9 650,375 650.5,374.6 651,375 651.5,374.7 652,374.8 652.5,374.6 653,374.6 653.5,374.4 654,374.8 654.5,374.7 655,374.7 655.5,374.5 656,374.5 656.5,374.6 657,374.9 657.5,374.9 658,374.6 658.5,374.9 659,375.2 659.5,374.8 660,376 660.5,376.3 661,377.3 661.5,377.1 662,377.5 662.5,376.9 663,377.3 663.5,377.1 664,376.7 664.5,376.9 665,377.5"/>
<polyline fill="none" stroke="#666666" stroke-width="1.15" stroke-linejoin="round" points="233.5,431.6 234,431.9 234.5,431.6 235,430.6 235.5,431.6 236,431.3 236.5,431.3 237,431.4 237.5,431.3 238,431.2 238.5,431.9 239,431.6 239.5,431.3 240,431.4 240.5,431.8 241,431.6 241.5,431.6 242,431.1 242.5,431.4 243,431.2 243.5,430.9 244,431.8 244.5,431.4 245,431.4 245.5,431.2 246,431.7 246.5,431.9 247,430.8 247.5,430.3 248,429 248.5,428.8 249,428.2 249.5,427.9 250,426.9 250.5,426 251,425.6 251.5,424.9 252,423.1 252.5,420.6 253,418.2 253.5,415.9 254,413.8 254.5,411 255,421.1 255.5,430.9 256,431.9 256.5,431.6 257,431.7 257.5,431.5 258,432 258.5,431.2 259,431.9 259.5,431.2 260,431.4 260.5,431.1 261,431.5 261.5,431.4 262,431.6 262.5,431.3 263,431.1 263.5,431.7 264,431.9 264.5,431.7 265,431.5 265.5,431.6 266,431 266.5,431.4 267,431.8 267.5,431.6 268,431.2 268.5,431.8 269,431.5 269.5,431.7 270,431.1 270.5,431.3 271,431.6 271.5,431.6 272,430.8 272.5,426.6 273,422.4 273.5,418.5 274,414.6 274.5,414.4 275,415.3 275.5,415.9 276,415.5 276.5,415.2 277,413.9 277.5,418.8 278,422.4 278.5,427 279,431.3 279.5,431.4 280,431.3 280.5,431.3 281,431.4 281.5,431.4 282,430.9 282.5,431.1 283,431.4 283.5,431.7 284,431.8 284.5,432.3 285,431.5 285.5,431.3 286,431.5 286.5,431.7 287,431.5 287.5,431.2 288,431.5 288.5,431.5 289,431.1 289.5,431.1 290,431.9 290.5,430.8 291,431.5 291.5,431.4 292,431.9 292.5,431.7 293,431.2 293.5,431.2 294,427.1 294.5,424.3 295,420.7 295.5,416.7 296,416.1 296.5,415.2 297,414.1 297.5,413.9 298,412.9 298.5,412.2 299,410.3 299.5,408.4 300,406.3 300.5,404 301,413.2 301.5,422.5 302,431.5 302.5,431.4 303,432.1 303.5,431.6 304,432.1 304.5,431.3 305,431.5 305.5,431.4 306,431.4 306.5,431.4 307,431.5 307.5,431.4 308,432 308.5,431.7 309,431.3 309.5,431.3 310,431.7 310.5,431.7 311,431.3 311.5,431.8 312,431.1 312.5,431.4 313,432 313.5,430.7 314,431.4 314.5,431.8 315,431.5 315.5,431.3 316,431.2 316.5,430.9 317,431.1 317.5,431.5 318,431.3 318.5,429.5 319,424.5 319.5,419.7 320,414.2 320.5,415.2 321,415.7 321.5,416.3 322,416.7 322.5,415.5 323,415.5 323.5,414.7 324,415.3 324.5,414.8 325,415.2 325.5,420.5 326,425.8 326.5,431.6 327,431.2 327.5,431.6 328,431.5 328.5,431.2 329,431.9 329.5,431.8 330,431.6 330.5,431.7 331,432 331.5,431.5 332,431.1 332.5,431.2 333,431.7 333.5,431.6 334,431.1 334.5,431.9 335,431.6 335.5,432 336,431.8 336.5,431.4 337,431.5 337.5,431.3 338,431.3 338.5,431.4 339,431.7 339.5,431.9 340,431.2 340.5,431.7 341,431.5 341.5,431.4 342,431.8 342.5,431.4 343,431.9 343.5,431.4 344,431.2 344.5,431.7 345,425.7 345.5,420.4 346,415.3 346.5,410 347,410.9 347.5,411.4 348,412.6 348.5,411.7 349,410.2 349.5,408.3 350,409.8 350.5,410.9 351,412.3 351.5,411 352,410.8 352.5,409.4 353,410.2 353.5,410.2 354,415.9 354.5,423.7 355,431.6 355.5,431.8 356,431.1 356.5,431.4 357,431.7 357.5,431.7 358,431.2 358.5,431.2 359,431.6 359.5,431.2 360,431.6 360.5,431.8 361,431.5 361.5,430.7 362,431.9 362.5,431.9 363,431.9 363.5,431.8 364,431 364.5,431.9 365,431.6 365.5,431.8 366,431.5 366.5,431.4 367,431.4 367.5,432 368,431.6 368.5,431.4 369,431.1 369.5,431.7 370,431.5 370.5,431.6 371,431.8 371.5,431.7 372,431.5 372.5,431.6 373,431.5 373.5,431.7 374,431.7 374.5,431.6 375,431.3 375.5,431.8 376,431.8 376.5,431.2 377,431.6 377.5,431.4 378,430.9 378.5,431.5 379,431.8 379.5,431.3 380,431.3 380.5,431.8 381,431.2 381.5,431.2 382,431.4 382.5,431.7 383,429.4 383.5,417.8 384,406.6 384.5,402.4 385,401.7 385.5,403 386,407.1 386.5,418.6 387,429.3 387.5,432.4 388,431.7 388.5,431.3 389,431.5 389.5,431.6 390,431.6 390.5,431.6 391,431.6 391.5,431.5 392,431.7 392.5,432.2 393,431.4 393.5,431.4 394,431.7 394.5,431.9 395,431.8 395.5,431.9 396,431.5 396.5,426.9 397,419.5 397.5,412.9 398,410.7 398.5,411.4 399,413.2 399.5,419.2 400,425.7 400.5,430.9 401,431.6 401.5,431.5 402,431.4 402.5,431.1 403,431.2 403.5,431.4 404,431.1 404.5,431.5 405,431.5 405.5,431.5 406,431.6 406.5,431.5 407,431.2 407.5,431.2 408,431.5 408.5,431.8 409,431.5 409.5,431.4 410,431.6 410.5,431 411,429.4 411.5,420.4 412,411.3 412.5,407.4 413,406.8 413.5,408 414,412.3 414.5,421.2 415,429.2 415.5,431.1 416,431.4 416.5,431.9 417,431.7 417.5,432 418,431.9 418.5,431.4 419,431.5 419.5,431.1 420,431.9 420.5,431.7 421,431.7 421.5,431.7 422,431.6 422.5,431.6 423,431.6 423.5,431.9 424,431.3 424.5,431.2 425,431.5 425.5,427.1 426,419 426.5,412 427,409.8 427.5,410.3 428,412.5 428.5,418.2 429,425.1 429.5,431.4 430,431.4 430.5,431.6 431,432.1 431.5,431.3 432,431.5 432.5,431.4 433,430.7 433.5,431.3 434,431.3 434.5,431.6 435,431.3 435.5,431.1 436,431.7 436.5,431.5 437,431.2 437.5,431.3 438,431.4 438.5,431.7 439,431.9 439.5,431.1 440,422.7 440.5,413.2 441,408.1 441.5,407.1 442,407.2 442.5,411.9 443,419 443.5,427.9 444,431.2 444.5,432 445,432 445.5,431.7 446,431.7 446.5,431.3 447,432 447.5,431.9 448,431.8 448.5,431.5 449,431.4 449.5,431.5 450,431.9 450.5,431.2 451,431.5 451.5,432 452,431.8 452.5,432 453,427.8 453.5,418.2 454,408.9 454.5,406.2 455,406.2 455.5,408 456,412.9 456.5,422.9 457,431.4 457.5,431.3 458,431.8 458.5,431.2 459,431.1 459.5,431.3 460,431.5 460.5,431.6 461,431.7 461.5,431.8 462,431.5 462.5,431.6 463,431.5 463.5,431.3 464,431.6 464.5,431.6 465,432.1 465.5,431.7 466,431.3 466.5,431.7 467,431.4 467.5,432 468,431 468.5,426.6 469,418.7 469.5,412.2 470,409.6 470.5,409.9 471,412.6 471.5,418.6 472,426.2 472.5,431.9 473,431.4 473.5,431.7 474,431.3 474.5,431.1 475,431.9 475.5,431.7 476,431.4 476.5,431.4 477,431.8 477.5,431.6 478,431.4 478.5,431.6 479,431.5 479.5,431.4 480,431.3 480.5,431.8 481,431.4 481.5,431.2 482,432.1 482.5,431.9 483,421.7 483.5,411.5 484,406.1 484.5,404.4 485,405.5 485.5,409.8 486,418.1 486.5,427.8 487,431.3 487.5,431.6 488,431.1 488.5,431.5 489,431.3 489.5,431.1 490,431.4 490.5,431.5 491,431.3 491.5,431.8 492,431.3 492.5,431.8 493,431.7 493.5,431.3 494,431.9 494.5,431.1 495,431.7 495.5,431.5 496,431.7 496.5,424.3 497,416 497.5,412.9 498,405.8 498.5,412.9 499,414.4 499.5,412.4 500,414.1 500.5,423 501,422.7 501.5,420.4 502,409.7 502.5,411.1 503,413.4 503.5,408.2 504,405.6 504.5,417 505,412.1 505.5,415.2 506,412.6 506.5,415.9 507,411 507.5,418.2 508,407.4 508.5,417.5 509,415.8 509.5,410 510,418.5 510.5,413.1 511,415.1 511.5,421 512,416.9 512.5,412.5 513,415.3 513.5,413.1 514,414.2 514.5,410.6 515,415.1 515.5,410.5 516,415.4 516.5,415.4 517,416.6 517.5,420.2 518,410.1 518.5,411.3 519,411.8 519.5,412.9 520,416.6 520.5,413.4 521,412.8 521.5,404.8 522,412.6 522.5,409.5 523,413.9 523.5,410.5 524,414 524.5,415.6 525,415 525.5,410.9 526,416.2 526.5,416.1 527,414.8 527.5,410.8 528,410.2 528.5,417.7 529,425.1 529.5,431.2 530,431.1 530.5,431.8 531,431.1 531.5,431.8 532,431.6 532.5,431.3 533,431.3 533.5,431.6 534,431.5 534.5,431.7 535,431.5 535.5,431.4 536,431.7 536.5,431.1 537,431.7 537.5,424.2 538,411.7 538.5,412.2 539,409.5 539.5,408.7 540,414.6 540.5,414.7 541,409.2 541.5,415.9 542,414.9 542.5,409.6 543,415.7 543.5,413.1 544,414 544.5,417 545,414.1 545.5,417.1 546,413.3 546.5,412.2 547,411.4 547.5,413 548,409 548.5,413.3 549,413.2 549.5,412.2 550,407.9 550.5,408.2 551,415.7 551.5,411.4 552,417.5 552.5,412.2 553,415.1 553.5,410.4 554,412.6 554.5,413.8 555,415.9 555.5,418.8 556,417 556.5,410.8 557,414.7 557.5,414.3 558,413.2 558.5,416.4 559,413.1 559.5,413.9 560,418 560.5,418.8 561,406 561.5,419.9 562,419.8 562.5,416.2 563,420 563.5,416.3 564,418.7 564.5,417.4 565,413.6 565.5,416.6 566,416 566.5,417.8 567,420.1 567.5,423.1 568,423 568.5,420.2 569,419.1 569.5,417.2 570,415 570.5,414.6 571,418.8 571.5,421.9 572,426.1 572.5,430.3 573,431.4 573.5,431.6 574,431.3 574.5,431.3 575,431.3 575.5,431.4 576,431.7 576.5,431.5 577,432.1 577.5,431.7 578,431.6 578.5,432.2 579,431.5 579.5,431.3 580,431.5 580.5,420.3 581,409.9 581.5,421 582,431.7 582.5,431.4 583,431.5 583.5,431.6 584,431.9 584.5,431.4 585,431.4 585.5,431.8 586,431.6 586.5,431.6 587,431.6 587.5,425.4 588,418.3 588.5,414.3 589,413.6 589.5,412.7 590,411 590.5,412 591,410.8 591.5,417 592,408.9 592.5,414.2 593,412.4 593.5,410.8 594,415.9 594.5,411.9 595,417.1 595.5,413.5 596,414.9 596.5,413.7 597,415.7 597.5,416.4 598,412.8 598.5,414 599,418.6 599.5,406.1 600,418.7 600.5,413 601,412.6 601.5,409.6 602,411.8 602.5,409.5 603,412.5 603.5,415.8 604,413.8 604.5,408.5 605,411.3 605.5,412.2 606,410.2 606.5,410.7 607,419.1 607.5,414.6 608,411.6 608.5,415.7 609,417.9 609.5,408.9 610,410 610.5,410.7 611,409.9 611.5,417.6 612,422.9 612.5,412.1 613,409.8 613.5,417.7 614,414.2 614.5,407.3 615,404.2 615.5,409 616,412.5 616.5,417.2 617,424.3 617.5,430.3 618,431.6 618.5,431 619,431.4 619.5,431.5 620,431.5 620.5,431.7 621,431.9 621.5,432 622,431.9 622.5,431.5 623,432 623.5,431.6 624,431.8 624.5,431.4 625,431.1 625.5,430.8 626,429.9 626.5,421.2 627,413 627.5,415.7 628,414.2 628.5,416.8 629,412.1 629.5,413.7 630,415.1 630.5,412.2 631,414.2 631.5,412.4 632,414.2 632.5,407.3 633,404 633.5,413.2 634,409.3 634.5,410.8 635,408.7 635.5,407.5 636,412.1 636.5,412 637,416.2 637.5,414.8 638,406 638.5,407.6 639,414.7 639.5,407.8 640,412 640.5,414.9 641,411.4 641.5,412.8 642,415.3 642.5,414.5 643,411.4 643.5,416.8 644,409.8 644.5,417.9 645,412.9 645.5,413.6 646,415.7 646.5,410.8 647,413.4 647.5,412.7 648,412.2 648.5,411.3 649,411.3 649.5,414.1 650,412.2 650.5,409.3 651,413.1 651.5,417.3 652,416.5 652.5,407.8 653,410.8 653.5,415 654,413.2 654.5,413.2 655,412.7 655.5,413.2 656,410.4 656.5,416.1 657,410.3 657.5,413 658,414.9 658.5,419.3 659,424.2 659.5,428.9 660,431.5 660.5,431.8 661,431.3 661.5,431.2 662,431.6 662.5,431.2 663,431.6 663.5,431.5 664,431.4 664.5,431.7 665,431.7"/>
<polyline fill="none" stroke="#f39b45" stroke-width="1.15" stroke-linejoin="round" points="233.5,487.7 234,487.4 234.5,487.3 235,487.4 235.5,487.6 236,487.6 236.5,487.5 237,487.5 237.5,487.3 238,487.6 238.5,487.5 239,487.5 239.5,487.1 240,487.4 240.5,487.5 241,487.5 241.5,486.8 242,486.9 242.5,487.4 243,487.1 243.5,487.4 244,487.3 244.5,487.5 245,484 245.5,478.5 246,473.5 246.5,468 247,462.4 247.5,456.8 248,452.5 248.5,451.5 249,451.4 249.5,450.8 250,451 250.5,451.1 251,451.2 251.5,451.2 252,450.9 252.5,451.1 253,451.2 253.5,450.9 254,450.9 254.5,450.5 255,454.9 255.5,458.9 256,471.1 256.5,484.5 257,487.6 257.5,487.3 258,487.5 258.5,487.4 259,487.4 259.5,487.1 260,487.6 260.5,487.3 261,486.9 261.5,487.2 262,487.1 262.5,487.6 263,487.5 263.5,487.6 264,487.8 264.5,487.2 265,486.9 265.5,487.1 266,487.4 266.5,486.8 267,487.2 267.5,484.3 268,478.6 268.5,473.3 269,467.8 269.5,463.7 270,459 270.5,453.7 271,450 271.5,450 272,449.9 272.5,449.7 273,449.7 273.5,449.8 274,449.8 274.5,450 275,449.6 275.5,449.5 276,449.5 276.5,450 277,449.7 277.5,449.7 278,449.8 278.5,454.6 279,459.6 279.5,470.8 280,484.6 280.5,487.5 281,487.5 281.5,487.3 282,487 282.5,487.3 283,487.2 283.5,487.3 284,487.6 284.5,487.5 285,487.1 285.5,487.2 286,487.4 286.5,487.6 287,487.3 287.5,487.4 288,487 288.5,487.2 289,487.2 289.5,487.4 290,487.3 290.5,487.1 291,487.1 291.5,484.8 292,478.2 292.5,472.1 293,465.8 293.5,460 294,454.6 294.5,449.5 295,449.8 295.5,449.3 296,449.4 296.5,449 297,448.8 297.5,448.5 298,448.8 298.5,448.8 299,448.3 299.5,448.9 300,448.4 300.5,448.1 301,454 301.5,458.9 302,471.2 302.5,484 303,487.8 303.5,487.3 304,487.3 304.5,487.4 305,487.1 305.5,487.5 306,487.4 306.5,487.4 307,487.2 307.5,487.1 308,487.4 308.5,487.5 309,487.3 309.5,487.3 310,487.2 310.5,487.5 311,487.6 311.5,487.3 312,487.1 312.5,487.8 313,487 313.5,487.4 314,485.4 314.5,480.8 315,475.7 315.5,470.6 316,465.9 316.5,461.6 317,456.9 317.5,452.2 318,448.5 318.5,448.1 319,447.9 319.5,447.9 320,447.7 320.5,447.6 321,447.2 321.5,447.6 322,446.8 322.5,447.2 323,447 323.5,447 324,446.8 324.5,446.1 325,446.3 325.5,450.7 326,455 326.5,459.3 327,467.2 327.5,476.7 328,485.5 328.5,487.2 329,487.4 329.5,487.2 330,487.2 330.5,487.3 331,487.9 331.5,487.4 332,487.3 332.5,487.2 333,487.4 333.5,487.1 334,487.4 334.5,487.4 335,487.3 335.5,487.4 336,487.3 336.5,487.5 337,487.4 337.5,487.4 338,487.3 338.5,487.5 339,487.3 339.5,487.6 340,487.3 340.5,485.5 341,474.7 341.5,464.1 342,459.7 342.5,457.3 343,454.5 343.5,452.2 344,451.7 344.5,451.1 345,450.3 345.5,449.6 346,449.4 346.5,448.7 347,448.4 347.5,447.9 348,447.5 348.5,447.3 349,447.1 349.5,446.8 350,446.4 350.5,445.8 351,446.4 351.5,446.1 352,445.8 352.5,445.7 353,445.6 353.5,445.4 354,448.7 354.5,453 355,457.5 355.5,461.7 356,466.2 356.5,469.7 357,474.1 357.5,475.6 358,477.5 358.5,479.9 359,481.1 359.5,482.9 360,484.1 360.5,484.8 361,484.9 361.5,485 362,485.8 362.5,486.4 363,486.6 363.5,487 364,487.2 364.5,487.1 365,487.3 365.5,487.1 366,487.2 366.5,487.1 367,487.3 367.5,487.5 368,487.3 368.5,487.5 369,487.4 369.5,487.3 370,487.1 370.5,487.3 371,487.1 371.5,487.5 372,487 372.5,487 373,487.1 373.5,487 374,487.3 374.5,487.2 375,487.2 375.5,487.4 376,486.9 376.5,487.3 377,487.4 377.5,487.5 378,487.3 378.5,487.2 379,487.5 379.5,487.5 380,487.8 380.5,487.8 381,487.3 381.5,487.6 382,487.4 382.5,487.1 383,487.5 383.5,486.3 384,482.5 384.5,475.5 385,466 385.5,460.2 386,466.2 386.5,475.2 387,483.2 387.5,486 388,487.7 388.5,487.1 389,487.2 389.5,487.1 390,487.4 390.5,487.3 391,487.5 391.5,487.5 392,487.5 392.5,487.5 393,487.5 393.5,487.3 394,487.2 394.5,487.1 395,487.5 395.5,487.2 396,487.1 396.5,487.1 397,485.6 397.5,483.3 398,476.2 398.5,471 399,470.5 399.5,474.4 400,481.8 400.5,485.4 401,487.4 401.5,487.5 402,487.3 402.5,487.4 403,487.3 403.5,487.2 404,487.4 404.5,487.5 405,486.9 405.5,487.1 406,486.9 406.5,487.1 407,487 407.5,487.2 408,487.2 408.5,487.5 409,487.5 409.5,487.1 410,487.2 410.5,487.4 411,487.2 411.5,486.1 412,483 412.5,476.5 413,468.2 413.5,462.3 414,467.9 414.5,476.1 415,483.4 415.5,486.1 416,487 416.5,487.2 417,487.5 417.5,487.5 418,487.6 418.5,487.3 419,487.3 419.5,487.4 420,487.4 420.5,487.4 421,487.1 421.5,487.1 422,487.2 422.5,487.4 423,487.2 423.5,487.1 424,487.5 424.5,487.6 425,487.1 425.5,486.2 426,484.8 426.5,479.4 427,475.1 427.5,472.6 428,476.3 428.5,481.9 429,485.5 429.5,487.1 430,487 430.5,487 431,487.1 431.5,487.5 432,487.4 432.5,487.5 433,487.4 433.5,487.2 434,487.2 434.5,487.1 435,487.5 435.5,487 436,487.3 436.5,487.3 437,487.5 437.5,487.1 438,487.4 438.5,487.1 439,487.5 439.5,487.2 440,487.2 440.5,486.1 441,484.5 441.5,479.6 442,475.3 442.5,473.7 443,476.5 443.5,482 444,485.5 444.5,486.7 445,486.9 445.5,487.4 446,487 446.5,487.1 447,487.3 447.5,487.3 448,487.2 448.5,487.1 449,487.5 449.5,487.3 450,487.7 450.5,487.1 451,487.3 451.5,487.3 452,487.4 452.5,487.3 453,487.3 453.5,487.3 454,485.2 454.5,481.8 455,476.3 455.5,472.8 456,475.1 456.5,479.1 457,484.8 457.5,485.9 458,487.2 458.5,487.3 459,487.2 459.5,487.2 460,487.5 460.5,487.8 461,487.5 461.5,487.3 462,487.2 462.5,487.1 463,487.5 463.5,487.5 464,487.6 464.5,487.5 465,487.6 465.5,487.2 466,487.1 466.5,487.1 467,487.3 467.5,487.3 468,487.3 468.5,487 469,485.8 469.5,483.8 470,477.1 470.5,471.9 471,471.7 471.5,475.7 472,482.5 472.5,485.3 473,487.4 473.5,487.2 474,487.4 474.5,487.5 475,487.2 475.5,487.4 476,487.3 476.5,487.4 477,487.3 477.5,487.4 478,486.9 478.5,487.2 479,487.5 479.5,487.4 480,487.1 480.5,487.1 481,487.4 481.5,487.4 482,487.4 482.5,487.3 483,486.7 483.5,483.6 484,476.5 484.5,466.1 485,460 485.5,463.6 486,472.5 486.5,481.9 487,485.1 487.5,487.6 488,487.3 488.5,487 489,487.3 489.5,487.3 490,487.3 490.5,487.4 491,487.1 491.5,487.3 492,487.5 492.5,487.5 493,487.4 493.5,487.3 494,487 494.5,487.7 495,487.2 495.5,487.4 496,487.5 496.5,487.6 497,486.5 497.5,481.5 498,476.8 498.5,472.4 499,469.5 499.5,465.9 500,463.1 500.5,459.6 501,459.3 501.5,458.6 502,457.7 502.5,457.4 503,457.1 503.5,457.1 504,456.4 504.5,456.8 505,457 505.5,456.8 506,456.5 506.5,456.7 507,457.1 507.5,456.9 508,457 508.5,456.8 509,457.1 509.5,456.2 510,456.5 510.5,457.1 511,456.9 511.5,456.7 512,456.6 512.5,456.3 513,456.5 513.5,456.6 514,456.4 514.5,456.8 515,456.8 515.5,456.5 516,456.7 516.5,456.6 517,457.4 517.5,457.9 518,459.1 518.5,459 519,460 519.5,460.9 520,461.5 520.5,461.7 521,463.1 521.5,464.5 522,465.6 522.5,466.9 523,468.2 523.5,469.5 524,470.7 524.5,470.7 525,471.7 525.5,470.7 526,469.3 526.5,467.5 527,466.4 527.5,465.5 528,471.7 528.5,477.1 529,482.8 529.5,487.7 530,487.4 530.5,487.6 531,487.7 531.5,487.3 532,487.8 532.5,487.7 533,487.4 533.5,487.5 534,487.3 534.5,487.5 535,487.7 535.5,487.7 536,487.5 536.5,487.4 537,485.2 537.5,482.3 538,483.6 538.5,487.6 539,487.4 539.5,487.4 540,487.3 540.5,481.8 541,475.8 541.5,469.7 542,467.6 542.5,465 543,462.2 543.5,459.5 544,456.9 544.5,456.1 545,456.4 545.5,456.4 546,456.2 546.5,455.9 547,455.8 547.5,455.7 548,455.9 548.5,455.2 549,455.3 549.5,455 550,454.8 550.5,455 551,455.1 551.5,454.5 552,454.8 552.5,454.6 553,454.5 553.5,454.5 554,454.3 554.5,455.2 555,455.3 555.5,455.9 556,456 556.5,457 557,457.2 557.5,457.6 558,458 558.5,458.7 559,459.4 559.5,459.7 560,460 560.5,460.4 561,460.8 561.5,461.4 562,461.7 562.5,462.4 563,463.1 563.5,463.4 564,464.8 564.5,466.2 565,468 565.5,469.4 566,471.1 566.5,472.1 567,473.5 567.5,475.1 568,475.4 568.5,475.4 569,475 569.5,474.7 570,474.6 570.5,475.2 571,478 571.5,480.5 572,483.5 572.5,486.4 573,487.6 573.5,487.4 574,487.2 574.5,487.6 575,487.3 575.5,487.4 576,487.4 576.5,487.7 577,487.4 577.5,487.5 578,487.4 578.5,487.4 579,487.7 579.5,487.4 580,487.6 580.5,483.8 581,479.6 581.5,483.4 582,486.9 582.5,487.6 583,487.5 583.5,487.4 584,487.4 584.5,487.4 585,487.4 585.5,487.5 586,485.8 586.5,482.9 587,480.6 587.5,477.7 588,474.7 588.5,472.4 589,471.3 589.5,469.8 590,468.6 590.5,467 591,465.8 591.5,464.4 592,463.4 592.5,462.4 593,461.6 593.5,460.9 594,461.1 594.5,460.8 595,460.3 595.5,459.3 596,459.3 596.5,458.6 597,458.3 597.5,458.1 598,457.8 598.5,457 599,456.6 599.5,456 600,455.8 600.5,455.2 601,454.9 601.5,455.2 602,455.2 602.5,455.3 603,455.4 603.5,455.6 604,455.8 604.5,455.4 605,455.3 605.5,455.9 606,456 606.5,456.2 607,456.2 607.5,456.4 608,456.3 608.5,456.1 609,456.5 609.5,456.6 610,457.7 610.5,459 611,460 611.5,461.2 612,462 612.5,463.6 613,462.2 613.5,461.3 614,459.8 614.5,458.9 615,457.3 615.5,457.4 616,460.9 616.5,465.8 617,470.6 617.5,474.6 618,478.9 618.5,483.4 619,488 619.5,487.3 620,487.5 620.5,487.4 621,487.6 621.5,487.4 622,487.2 622.5,487.2 623,487.6 623.5,487.5 624,487.7 624.5,487.2 625,487.3 625.5,487.4 626,487.7 626.5,481.1 627,474.5 627.5,467.8 628,465.3 628.5,462.4 629,459.9 629.5,457.3 630,454.2 630.5,453.4 631,454 631.5,453.7 632,453.6 632.5,453.5 633,453.5 633.5,453.4 634,453.4 634.5,453.1 635,453.2 635.5,453.3 636,453.3 636.5,453.3 637,453.3 637.5,452.8 638,453 638.5,453 639,453.2 639.5,453.1 640,453.5 640.5,453 641,453 641.5,452.7 642,453.3 642.5,453 643,452.9 643.5,452.8 644,452.9 644.5,452.8 645,453.1 645.5,453 646,453.9 646.5,454.7 647,455.7 647.5,456.5 648,457.4 648.5,458.2 649,459 649.5,459.7 650,460.7 650.5,461.4 651,462.3 651.5,463.3 652,464.9 652.5,466.2 653,467.3 653.5,469.3 654,470.7 654.5,472 655,473.2 655.5,470.7 656,467.3 656.5,465.2 657,461.8 657.5,459.5 658,459.9 658.5,465.3 659,470.7 659.5,476 660,481 660.5,486.3 661,487.3 661.5,487.5 662,487.4 662.5,487.2 663,487.7 663.5,487.3 664,487.4 664.5,487.4 665,487.3"/>
<line x1="371.5" y1="217.3" x2="371.5" y2="492.6" stroke="#444" stroke-width="0.8" stroke-dasharray="2.5,2"/>
<line x1="492.5" y1="217.3" x2="492.5" y2="492.6" stroke="#444" stroke-width="0.8" stroke-dasharray="2.5,2"/>
<line x1="233.1" y1="217.3" x2="233.1" y2="492.6" stroke="#a0a0a0" stroke-width="1.9" />
<line x1="676.5" y1="217.3" x2="676.5" y2="500.5" stroke="#555" stroke-width="1.0" />
<line x1="232.1" y1="217.3" x2="676.5" y2="217.3" stroke="#333" stroke-width="1.0" />
<line x1="233.1" y1="272.3" x2="676.5" y2="272.3" stroke="#333" stroke-width="1.0" />
<line x1="233.1" y1="327.3" x2="676.5" y2="327.3" stroke="#333" stroke-width="1.0" />
<line x1="233.1" y1="382.5" x2="676.5" y2="382.5" stroke="#333" stroke-width="1.0" />
<line x1="233.1" y1="437.5" x2="676.5" y2="437.5" stroke="#333" stroke-width="1.0" />
<line x1="232.1" y1="492.6" x2="676.5" y2="492.6" stroke="#777" stroke-width="1.3" />
<line x1="224.8" y1="240.6" x2="233.1" y2="240.6" stroke="#333" stroke-width="1.0" />
<line x1="224.8" y1="267.3" x2="233.1" y2="267.3" stroke="#333" stroke-width="1.0" />
<text x="219.5" y="244.1" font-size="10.2" text-anchor="end" fill="#000" font-weight="normal" >0.82</text>
<text x="219.5" y="270.8" font-size="10.2" text-anchor="end" fill="#000" font-weight="normal" >0.00</text>
<text x="235.4" y="231.9" font-size="9.4" text-anchor="start" fill="#000" font-weight="normal" >A</text>
<line x1="224.8" y1="295.6" x2="233.1" y2="295.6" stroke="#333" stroke-width="1.0" />
<line x1="224.8" y1="322.3" x2="233.1" y2="322.3" stroke="#333" stroke-width="1.0" />
<text x="219.5" y="299.1" font-size="10.2" text-anchor="end" fill="#000" font-weight="normal" >19</text>
<text x="219.5" y="325.8" font-size="10.2" text-anchor="end" fill="#000" font-weight="normal" >0</text>
<text x="235.4" y="286.9" font-size="9.4" text-anchor="start" fill="#000" font-weight="normal" >B</text>
<line x1="224.8" y1="350.6" x2="233.1" y2="350.6" stroke="#333" stroke-width="1.0" />
<line x1="224.8" y1="377.3" x2="233.1" y2="377.3" stroke="#333" stroke-width="1.0" />
<text x="219.5" y="354.1" font-size="10.2" text-anchor="end" fill="#000" font-weight="normal" >19</text>
<text x="219.5" y="380.8" font-size="10.2" text-anchor="end" fill="#000" font-weight="normal" >0</text>
<text x="235.4" y="341.9" font-size="9.4" text-anchor="start" fill="#000" font-weight="normal" >C</text>
<line x1="224.8" y1="405.8" x2="233.1" y2="405.8" stroke="#333" stroke-width="1.0" />
<line x1="224.8" y1="432.5" x2="233.1" y2="432.5" stroke="#333" stroke-width="1.0" />
<text x="219.5" y="409.3" font-size="10.2" text-anchor="end" fill="#000" font-weight="normal" >0.82</text>
<text x="219.5" y="436" font-size="10.2" text-anchor="end" fill="#000" font-weight="normal" >0.00</text>
<text x="235.4" y="397.1" font-size="9.4" text-anchor="start" fill="#000" font-weight="normal" >D</text>
<line x1="224.8" y1="460.8" x2="233.1" y2="460.8" stroke="#333" stroke-width="1.0" />
<line x1="224.8" y1="487.5" x2="233.1" y2="487.5" stroke="#333" stroke-width="1.0" />
<text x="219.5" y="464.3" font-size="10.2" text-anchor="end" fill="#000" font-weight="normal" >39</text>
<text x="219.5" y="491" font-size="10.2" text-anchor="end" fill="#000" font-weight="normal" >0</text>
<text x="235.4" y="452.1" font-size="9.4" text-anchor="start" fill="#000" font-weight="normal" >E</text>
<line x1="233.1" y1="492.6" x2="233.1" y2="500.5" stroke="#555" stroke-width="1.0" />
<text x="233.1" y="514.2" font-size="10.2" text-anchor="middle" fill="#000" font-weight="normal" >0</text>
<line x1="288.5" y1="492.6" x2="288.5" y2="496.4" stroke="#555" stroke-width="1.0" />
<line x1="343.9" y1="492.6" x2="343.9" y2="500.5" stroke="#555" stroke-width="1.0" />
<text x="343.9" y="514.2" font-size="10.2" text-anchor="middle" fill="#000" font-weight="normal" >5</text>
<line x1="399.3" y1="492.6" x2="399.3" y2="496.4" stroke="#555" stroke-width="1.0" />
<line x1="454.7" y1="492.6" x2="454.7" y2="500.5" stroke="#555" stroke-width="1.0" />
<text x="454.7" y="514.2" font-size="10.2" text-anchor="middle" fill="#000" font-weight="normal" >10</text>
<line x1="510.1" y1="492.6" x2="510.1" y2="496.4" stroke="#555" stroke-width="1.0" />
<line x1="565.5" y1="492.6" x2="565.5" y2="500.5" stroke="#555" stroke-width="1.0" />
<text x="565.5" y="514.2" font-size="10.2" text-anchor="middle" fill="#000" font-weight="normal" >15</text>
<line x1="620.9" y1="492.6" x2="620.9" y2="496.4" stroke="#555" stroke-width="1.0" />
<line x1="676.3" y1="492.6" x2="676.3" y2="500.5" stroke="#555" stroke-width="1.0" />
<text x="676.3" y="514.2" font-size="10.2" text-anchor="middle" fill="#000" font-weight="normal" >20</text>
<text x="454.1" y="530.8" font-size="10.4" text-anchor="middle" fill="#000" font-weight="normal" >Time (s)</text>
<text x="0" y="0" font-size="10.4" text-anchor="middle" dominant-baseline="central" fill="#000" transform="translate(186.9,355) rotate(-90)">Amplitude (a.u.)</text>
<line x1="291.3" y1="208.6" x2="303.3" y2="208.6" stroke="#000" stroke-width="1.3" />
<polygon points="286.3,208.6 292.8,205.3 292.8,211.9" fill="#000"/>
<polygon points="308.3,208.6 301.8,205.3 301.8,211.9" fill="#000"/>
<line x1="424.5" y1="208.5" x2="431" y2="208.5" stroke="#000" stroke-width="1.3" />
<polygon points="419.5,208.5 426,205.2 426,211.8" fill="#000"/>
<polygon points="436,208.5 429.5,205.2 429.5,211.8" fill="#000"/>
<line x1="581.6" y1="208.6" x2="615.6" y2="208.6" stroke="#000" stroke-width="1.3" />
<polygon points="576.6,208.6 583.1,205.3 583.1,211.9" fill="#000"/>
<polygon points="620.6,208.6 614.1,205.3 614.1,211.9" fill="#000"/>
<text x="298.5" y="201" font-size="10.3" text-anchor="middle" fill="#000" font-weight="normal" >1 s</text>
<text x="431.6" y="200.8" font-size="10.3" text-anchor="middle" fill="#000" font-weight="normal" >0.6 s</text>
<text x="600.5" y="202.3" font-size="10.3" text-anchor="middle" fill="#000" font-weight="normal" >1.9 s</text>
<g fill="none" stroke="#444" stroke-width="0.5" stroke-linecap="round" stroke-linejoin="round">
<path d="M118.6,192.4 Q118.4,188 121.8,187.8 Q125.2,188 125,192.4 Q124.6,196.6 121.8,197 Q118.8,196.6 118.6,192.4 Z M118.6,190.6 Q121.6,188.6 125,190.4 M119.4,189 L124.4,189.6"/>
<path d="M119.8,197 L115.6,198.6 Q113.6,200 113.6,206 L113.2,214.5 L114.4,219.6 L115.2,219.4 M116,203.4 L116.4,214.6 M123.6,197 L128,198.6 Q130.2,200 130.2,206 L130.6,214 L129.6,219.4 L128.8,219.4 M127.8,203.4 L127.6,214.6"/>
<path d="M116.4,214.6 L127.6,214.6 M116.6,216.6 L127.4,216.6 M117.2,216.6 L118.2,232 L118.8,239 M121.6,218.6 L121.4,232 L121.2,239 M122.4,218.6 L123,232 L123.4,239 M127.2,216.6 L126.6,232 L126.6,239"/>
<path d="M117.4,239.4 L121.6,239.4 L121.8,242.6 L116.4,243 L116.6,241 Z M122.8,239.4 L127,239.4 L128.8,242.6 L123.4,242.8 Z" fill="#999"/>
</g>
<line x1="327" y1="233.6" x2="368.4" y2="233.6" stroke="#c4c4c4" stroke-width="0.6"/>
<g fill="none" stroke="#2a2a2a" stroke-width="0.65" stroke-linecap="round" stroke-linejoin="round">
<path d="M344,187.6 Q344.4,185 347,185 Q349.6,185.2 349.8,187.8 Q349.6,190.6 347.6,191.4 Q345,191.6 344,189.6 Z M344.2,186.8 Q346,185.8 349.6,187"/>
<path d="M346.2,191.6 L345.4,193.4 Q343.4,198 343.1,203.7 L344.1,207.8 M349.3,192.3 Q351.2,196 351.3,198.5 L351.9,207.8"/>
<path d="M347.2,195.4 L344.1,205.2 L338.6,206.6 Q337.4,207.8 338.6,208.6 L344.6,207.6 M350.8,200.6 L352.4,211.9 L353,213.2 L351.6,213.4 L351,211.6"/>
<path d="M342,207.8 L341,217.1 L347.2,217.6 L351.9,216 L351.9,207.8 Z"/>
<path d="M341.6,217.4 L338.4,230.5 M345.4,217.8 L340.6,230.5 M347.2,217.6 L355,228.5 M351,216.4 L358,227.4"/>
<path d="M334.6,232.2 L338.2,230.2 L341.4,230.4 L342,233.8 L334.8,234.2 Z M353.2,228.6 L358.2,227 L359.2,232.4 L354.6,233.4 L352.8,232 Z" fill="#aaaaaa"/>
</g>
<line x1="453" y1="226.3" x2="489.2" y2="226.3" stroke="#c4c4c4" stroke-width="0.6"/>
<g fill="none" stroke="#2a2a2a" stroke-width="0.65" stroke-linecap="round" stroke-linejoin="round">
<path d="M468.2,189.6 Q468.2,186.6 471.2,186.6 Q474.3,186.8 474.3,189.8 Q474,193 471.4,193.4 Q468.4,193.2 468.2,189.6 Z M468.4,188.6 Q471,187.4 474.2,188.4"/>
<path d="M469.4,193.4 L463.6,196 Q462.4,199 462.8,202.6 L466.6,204.2 L468.6,202.4 L466.6,201.4 M473.4,193.4 L476.6,196 Q477.6,200 476.8,203.6 L474.8,205 L473.6,203 M465.2,199 L465.4,207.8 L475.4,207.8 L475.6,199"/>
<path d="M465.4,207.8 L464.6,214 L470.4,214 L471.4,212 L475.8,214 L475.4,207.8"/>
<path d="M465.4,213 L461.8,217 L462.4,221.6 L464.2,222 L468.6,218.6 L469.6,214.2 M470.6,214 L472.4,230.8 M475.4,214 L475,230.8"/>
<path d="M466,233.2 L471.6,230.8 L475.2,230.6 L477.8,232.4 L477.4,235.4 L466.2,235.6 Z" fill="#aaaaaa"/>
</g>
<line x1="626" y1="226.4" x2="672.4" y2="226.4" stroke="#c4c4c4" stroke-width="0.6"/>
<g fill="none" stroke="#2a2a2a" stroke-width="0.65" stroke-linecap="round" stroke-linejoin="round">
<path d="M640.6,215.6 Q639.6,209 643,204 L653.4,194.6 L655.2,193.4 L656,195.2 L647.4,203.6 Q644.4,207.6 643.4,213"/>
<path d="M648.6,204 Q648.6,200.4 652.2,200.4 Q655.8,200.6 655.8,204.2 Q655.4,207.6 652.2,207.8 Q648.8,207.6 648.6,204 Z"/>
<path d="M652,206.6 L661,202 L668.6,196.4 L670.4,195.8 L670.6,198 L663.6,203.4 L655.6,208.8 M641,215 Q641.4,221.6 648,222 L655.4,220.4 M645.4,208.6 L650,216.2 Q653.6,218.6 656.6,214.6 Q659,212 661.6,214 L663.2,217.8 L668.6,219.6 L670.4,221.4 L669.6,223.6 L663.6,223 L658.4,220 M650.6,214 L656,221 L664.6,223.2"/>
</g>
<path d="M627,207 L631,207 M628.5,210 L633,210 M634,206.4 L637,206.4 M626.8,228 L634,228.4" stroke="#cfcfcf" stroke-width="0.6"/></svg></body></html>
